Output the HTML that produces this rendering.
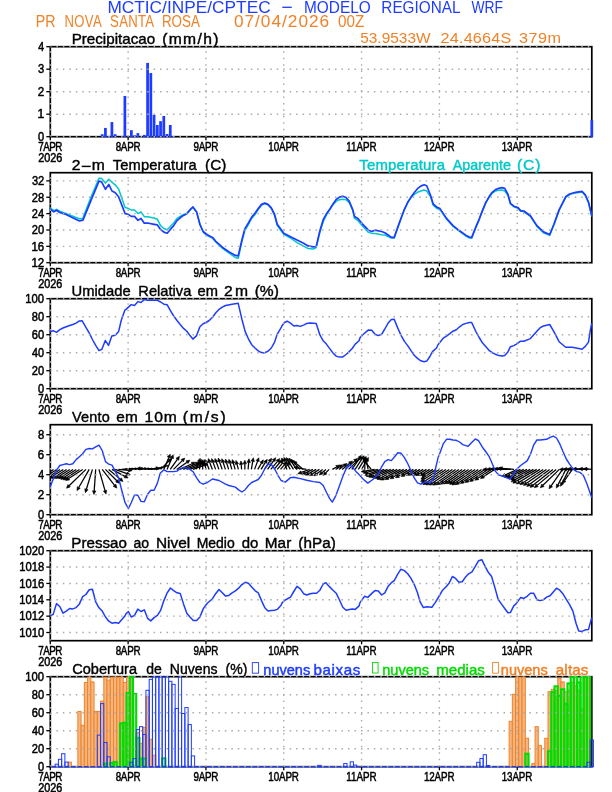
<!DOCTYPE html><html><head><meta charset="utf-8"><style>html,body{margin:0;padding:0;background:#fff;}svg{display:block;will-change:transform;}text{font-family:"Liberation Sans",sans-serif;}.b{stroke:#000;stroke-width:0.35px;}.lab{stroke:#000;stroke-width:0.3px;}</style></head><body>
<svg width="612" height="792" viewBox="0 0 612 792">
<rect x="0" y="0" width="612" height="792" fill="#fff"/>
<text transform="translate(107.38,12.7) scale(1.06,1)" x="0" y="0" font-size="16.3" fill="rgb(30,60,255)" textLength="154.03" lengthAdjust="spacing" class="" >MCTIC/INPE/CPTEC</text>
<text transform="translate(303.94,12.7) scale(0.946,1)" x="0" y="0" font-size="16.3" fill="rgb(30,60,255)" textLength="70.62" lengthAdjust="spacing" class="" >MODELO</text>
<text transform="translate(381.34,12.7) scale(0.94,1)" x="0" y="0" font-size="16.3" fill="rgb(30,60,255)" textLength="84.22" lengthAdjust="spacing" class="" >REGIONAL</text>
<text transform="translate(471.44,12.7) scale(0.852,1)" x="0" y="0" font-size="16.3" fill="rgb(30,60,255)" textLength="37.11" lengthAdjust="spacing" class="" >WRF</text>
<line x1="282.3" y1="7.3" x2="291.8" y2="7.3" stroke="rgb(30,60,255)" stroke-width="1.3"/>
<text transform="translate(35.74,26.8) scale(0.871,1)" x="0" y="0" font-size="16.3" fill="rgb(240,130,40)" textLength="22.64" lengthAdjust="spacing" class="" >PR</text>
<text transform="translate(64.53,26.8) scale(0.803,1)" x="0" y="0" font-size="16.3" fill="rgb(240,130,40)" textLength="46.2" lengthAdjust="spacing" class="" >NOVA</text>
<text transform="translate(110.1,26.8) scale(0.808,1)" x="0" y="0" font-size="16.3" fill="rgb(240,130,40)" textLength="54.36" lengthAdjust="spacing" class="" >SANTA</text>
<text transform="translate(161.9,26.8) scale(0.821,1)" x="0" y="0" font-size="16.3" fill="rgb(240,130,40)" textLength="46.19" lengthAdjust="spacing" class="" >ROSA</text>
<text transform="translate(233.93,26.8) scale(1.06,1)" x="0" y="0" font-size="16.3" fill="rgb(240,130,40)" textLength="89.84" lengthAdjust="spacing" class="" >07/04/2026</text>
<text transform="translate(338.1,26.8) scale(0.935,1)" x="0" y="0" font-size="16.3" fill="rgb(240,130,40)" textLength="28.1" lengthAdjust="spacing" class="" >00Z</text>
<text transform="translate(360.18,42.7) scale(1.009,1)" x="0" y="0" font-size="15.3" fill="rgb(240,130,40)" textLength="69.74" lengthAdjust="spacing" class="" >53.9533W</text>
<text transform="translate(440.58,42.7) scale(1.06,1)" x="0" y="0" font-size="15.3" fill="rgb(240,130,40)" textLength="66.66" lengthAdjust="spacing" class="" >24.4664S</text>
<text transform="translate(519.08,42.7) scale(1.06,1)" x="0" y="0" font-size="15.3" fill="rgb(240,130,40)" textLength="39.61" lengthAdjust="spacing" class="" >379m</text>
<text transform="translate(71.65,44.4) scale(1.026,1)" x="0" y="0" font-size="14.8" fill="#000" textLength="81.47" lengthAdjust="spacing" class="" stroke="#000" stroke-width="0.4">Precipitacao</text>
<text transform="translate(162.13,44.4) scale(1.06,1)" x="0" y="0" font-size="14.8" fill="#000" textLength="53.16" lengthAdjust="spacing" class="" stroke="#000" stroke-width="0.4">(mm/h)</text>
<text transform="translate(71.81,170.4) scale(1.06,1)" x="0" y="0" font-size="14.8" fill="#000" textLength="8.56" lengthAdjust="spacing" class="" stroke="#000" stroke-width="0.4">2</text>
<text transform="translate(91.86,170.4) scale(1.06,1)" x="0" y="0" font-size="14.8" fill="#000" textLength="12.43" lengthAdjust="spacing" class="" stroke="#000" stroke-width="0.4">m</text>
<text transform="translate(112.77,170.4) scale(0.992,1)" x="0" y="0" font-size="14.8" fill="#000" textLength="84.71" lengthAdjust="spacing" class="" stroke="#000" stroke-width="0.4">Temperatura</text>
<text transform="translate(205.05,170.4) scale(1.032,1)" x="0" y="0" font-size="14.8" fill="#000" textLength="20.54" lengthAdjust="spacing" class="" stroke="#000" stroke-width="0.4">(C)</text>
<line x1="81.7" y1="166.4" x2="90.7" y2="166.4" stroke="#000" stroke-width="1.45"/>
<text transform="translate(71.46,296.4) scale(0.999,1)" x="0" y="0" font-size="14.8" fill="#000" textLength="59.26" lengthAdjust="spacing" class="" stroke="#000" stroke-width="0.4">Umidade</text>
<text transform="translate(138.3,296.4) scale(0.991,1)" x="0" y="0" font-size="14.8" fill="#000" textLength="53.48" lengthAdjust="spacing" class="" stroke="#000" stroke-width="0.4">Relativa</text>
<text transform="translate(197.58,296.4) scale(0.992,1)" x="0" y="0" font-size="14.8" fill="#000" textLength="20.56" lengthAdjust="spacing" class="" stroke="#000" stroke-width="0.4">em</text>
<text transform="translate(223.91,296.4) scale(1.06,1)" x="0" y="0" font-size="14.8" fill="#000" textLength="22.76" lengthAdjust="spacing" class="" stroke="#000" stroke-width="0.4">2m</text>
<text transform="translate(254.63,296.4) scale(1.053,1)" x="0" y="0" font-size="14.8" fill="#000" textLength="23.01" lengthAdjust="spacing" class="" stroke="#000" stroke-width="0.4">(%)</text>
<text transform="translate(72.04,422.4) scale(0.977,1)" x="0" y="0" font-size="14.8" fill="#000" textLength="38.66" lengthAdjust="spacing" class="" stroke="#000" stroke-width="0.4">Vento</text>
<text transform="translate(116.35,422.4) scale(1.039,1)" x="0" y="0" font-size="14.8" fill="#000" textLength="20.56" lengthAdjust="spacing" class="" stroke="#000" stroke-width="0.4">em</text>
<text transform="translate(144.61,422.4) scale(1.06,1)" x="0" y="0" font-size="14.8" fill="#000" textLength="30.5" lengthAdjust="spacing" class="" stroke="#000" stroke-width="0.4">10m</text>
<text transform="translate(182.73,422.4) scale(1.06,1)" x="0" y="0" font-size="14.8" fill="#000" textLength="40.61" lengthAdjust="spacing" class="" stroke="#000" stroke-width="0.4">(m/s)</text>
<text transform="translate(71.36,548.4) scale(1.024,1)" x="0" y="0" font-size="14.8" fill="#000" textLength="54.28" lengthAdjust="spacing" class="" stroke="#000" stroke-width="0.4">Pressao</text>
<text transform="translate(133.4,548.4) scale(0.947,1)" x="0" y="0" font-size="14.8" fill="#000" textLength="16.46" lengthAdjust="spacing" class="" stroke="#000" stroke-width="0.4">ao</text>
<text transform="translate(155.93,548.4) scale(1.043,1)" x="0" y="0" font-size="14.8" fill="#000" textLength="32.88" lengthAdjust="spacing" class="" stroke="#000" stroke-width="0.4">Nivel</text>
<text transform="translate(196.66,548.4) scale(0.943,1)" x="0" y="0" font-size="14.8" fill="#000" textLength="40.33" lengthAdjust="spacing" class="" stroke="#000" stroke-width="0.4">Medio</text>
<text transform="translate(241.77,548.4) scale(1.012,1)" x="0" y="0" font-size="14.8" fill="#000" textLength="16.46" lengthAdjust="spacing" class="" stroke="#000" stroke-width="0.4">do</text>
<text transform="translate(264.84,548.4) scale(1.036,1)" x="0" y="0" font-size="14.8" fill="#000" textLength="25.49" lengthAdjust="spacing" class="" stroke="#000" stroke-width="0.4">Mar</text>
<text transform="translate(298.35,548.4) scale(1.033,1)" x="0" y="0" font-size="14.8" fill="#000" textLength="36.2" lengthAdjust="spacing" class="" stroke="#000" stroke-width="0.4">(hPa)</text>
<text transform="translate(72.26,674.4) scale(0.984,1)" x="0" y="0" font-size="14.8" fill="#000" textLength="65.79" lengthAdjust="spacing" class="" stroke="#000" stroke-width="0.4">Cobertura</text>
<text transform="translate(146.21,674.4) scale(0.948,1)" x="0" y="0" font-size="14.8" fill="#000" textLength="16.47" lengthAdjust="spacing" class="" stroke="#000" stroke-width="0.4">de</text>
<text transform="translate(169.85,674.4) scale(0.95,1)" x="0" y="0" font-size="14.8" fill="#000" textLength="50.17" lengthAdjust="spacing" class="" stroke="#000" stroke-width="0.4">Nuvens</text>
<text transform="translate(225.53,674.4) scale(0.949,1)" x="0" y="0" font-size="14.8" fill="#000" textLength="23.02" lengthAdjust="spacing" class="" stroke="#000" stroke-width="0.4">(%)</text>
<defs>
<clipPath id="c0"><rect x="50.3" y="46.7" width="541.5" height="90"/></clipPath>
<clipPath id="c1"><rect x="50.3" y="172.7" width="541.5" height="90"/></clipPath>
<clipPath id="c2"><rect x="50.3" y="298.7" width="541.5" height="90"/></clipPath>
<clipPath id="c3"><rect x="50.3" y="424.7" width="541.5" height="90"/></clipPath>
<clipPath id="c4"><rect x="50.3" y="550.7" width="541.5" height="90"/></clipPath>
<clipPath id="c5"><rect x="50.3" y="676.7" width="541.5" height="90"/></clipPath>
</defs>
<rect x="50.3" y="46.7" width="541.5" height="90" fill="none" stroke="#000" stroke-width="1.7"/>
<rect x="50.3" y="172.7" width="541.5" height="90" fill="none" stroke="#000" stroke-width="1.7"/>
<rect x="50.3" y="298.7" width="541.5" height="90" fill="none" stroke="#000" stroke-width="1.7"/>
<rect x="50.3" y="424.7" width="541.5" height="90" fill="none" stroke="#000" stroke-width="1.7"/>
<rect x="50.3" y="550.7" width="541.5" height="90" fill="none" stroke="#000" stroke-width="1.7"/>
<rect x="50.3" y="676.7" width="541.5" height="90" fill="none" stroke="#000" stroke-width="1.7"/>
<rect x="100.81" y="134.22" width="2.75" height="2.97" fill="rgb(30,60,255)"/>
<rect x="104.05" y="127.92" width="2.75" height="9.28" fill="rgb(30,60,255)"/>
<rect x="107.3" y="136.25" width="2.75" height="0.95" fill="rgb(30,60,255)"/>
<rect x="110.54" y="122.07" width="2.75" height="15.12" fill="rgb(30,60,255)"/>
<rect x="113.78" y="134.22" width="2.75" height="2.97" fill="rgb(30,60,255)"/>
<rect x="123.51" y="95.97" width="2.75" height="41.22" fill="rgb(30,60,255)"/>
<rect x="129.99" y="130.17" width="2.75" height="7.03" fill="rgb(30,60,255)"/>
<rect x="133.24" y="135.35" width="2.75" height="1.85" fill="rgb(30,60,255)"/>
<rect x="136.48" y="133.1" width="2.75" height="4.1" fill="rgb(30,60,255)"/>
<rect x="142.96" y="134.9" width="2.75" height="2.3" fill="rgb(30,60,255)"/>
<rect x="146.21" y="62.9" width="2.75" height="74.3" fill="rgb(30,60,255)"/>
<rect x="149.45" y="73.02" width="2.75" height="64.18" fill="rgb(30,60,255)"/>
<rect x="152.69" y="114.87" width="2.75" height="22.33" fill="rgb(30,60,255)"/>
<rect x="155.93" y="125" width="2.75" height="12.2" fill="rgb(30,60,255)"/>
<rect x="159.18" y="121.17" width="2.75" height="16.03" fill="rgb(30,60,255)"/>
<rect x="162.42" y="116" width="2.75" height="21.2" fill="rgb(30,60,255)"/>
<rect x="165.66" y="134" width="2.75" height="3.2" fill="rgb(30,60,255)"/>
<rect x="168.9" y="125" width="2.75" height="12.2" fill="rgb(30,60,255)"/>
<rect x="172.15" y="136.02" width="2.75" height="1.18" fill="rgb(30,60,255)"/>
<rect x="590.43" y="119.82" width="2.75" height="17.38" fill="rgb(30,60,255)"/>
<line x1="50.3" y1="136.7" x2="590.8" y2="136.7" stroke="rgb(170,170,170)" stroke-width="1.4" stroke-dasharray="1.5 4.98" stroke-dashoffset="0.4"/>
<line x1="50.3" y1="114.2" x2="590.8" y2="114.2" stroke="rgb(170,170,170)" stroke-width="1.4" stroke-dasharray="1.5 4.98" stroke-dashoffset="0.4"/>
<line x1="50.3" y1="91.7" x2="590.8" y2="91.7" stroke="rgb(170,170,170)" stroke-width="1.4" stroke-dasharray="1.5 4.98" stroke-dashoffset="0.4"/>
<line x1="50.3" y1="69.2" x2="590.8" y2="69.2" stroke="rgb(170,170,170)" stroke-width="1.4" stroke-dasharray="1.5 4.98" stroke-dashoffset="0.4"/>
<line x1="50.3" y1="46.7" x2="590.8" y2="46.7" stroke="rgb(170,170,170)" stroke-width="1.4" stroke-dasharray="1.5 4.98" stroke-dashoffset="0.4"/>
<line x1="50.3" y1="136.7" x2="50.3" y2="46.7" stroke="rgb(170,170,170)" stroke-width="1.4" stroke-dasharray="1.5 4.96"/>
<line x1="128.12" y1="136.7" x2="128.12" y2="46.7" stroke="rgb(170,170,170)" stroke-width="1.4" stroke-dasharray="1.5 4.96"/>
<line x1="205.94" y1="136.7" x2="205.94" y2="46.7" stroke="rgb(170,170,170)" stroke-width="1.4" stroke-dasharray="1.5 4.96"/>
<line x1="283.76" y1="136.7" x2="283.76" y2="46.7" stroke="rgb(170,170,170)" stroke-width="1.4" stroke-dasharray="1.5 4.96"/>
<line x1="361.58" y1="136.7" x2="361.58" y2="46.7" stroke="rgb(170,170,170)" stroke-width="1.4" stroke-dasharray="1.5 4.96"/>
<line x1="439.4" y1="136.7" x2="439.4" y2="46.7" stroke="rgb(170,170,170)" stroke-width="1.4" stroke-dasharray="1.5 4.96"/>
<line x1="517.22" y1="136.7" x2="517.22" y2="46.7" stroke="rgb(170,170,170)" stroke-width="1.4" stroke-dasharray="1.5 4.96"/>
<polyline points="50.35,208 53.9,210.6 56.5,209.3 59.8,211.2 79.4,218.8 82.6,218.8 91.1,196.8 99,178.3 101.6,178.5 105.5,183.1 108.8,179.2 115.3,185.1 118.6,189 125.1,207.6 128,208.3 131.2,209.9 134.5,209.9 138,213.6 141,211.9 144.3,216.7 147.6,216.7 154.1,218 157.4,219.3 160.6,225.6 163.9,228.5 167.2,229.8 170.4,226.6 173.7,223 177,218.4 183.5,214.5 186.8,213.6 190,209.9 192.9,207 196.6,211.9 199.9,224.3 203.1,231.5 204,233.2 207.3,235.5 212.5,238.2 215.8,242 222.3,248.2 228.8,253 235.4,257.5 238.2,258.3 241.9,241.5 244.8,230.5 248.4,224.5 251.7,218.5 255,214.5 258.2,209.5 261.5,205 264.8,203.5 268,204.8 271.3,208.5 274.6,215.5 277.2,225.3 281.1,230.8 284,234.5 285.3,235 290.5,238 297,242.6 303.6,246.2 308.1,248.5 313.4,249 316.2,247.6 319.9,232.1 323.2,221.7 326.4,215.1 333,204.7 336.2,201.4 339.5,199.7 342.8,199.2 346.1,199.7 349.3,202.7 352.6,209.9 354.5,218.4 357.8,220.4 360,223 363.3,226.9 368.5,232.4 371.8,233.4 375,233.4 381.6,234.7 384.8,235 391.4,238 394.2,238 397.9,227.5 401.2,218.3 404.4,209.8 407.7,202.8 411,197.6 414.2,194.5 417.5,192.3 420.8,191 424.1,190 426.7,191 430.6,196.8 433.2,205.3 437.1,208.6 440,209.6 441.3,211.3 446.5,219 453,226.3 459.6,231.5 466.1,236.1 469.4,238 471.7,238.2 475.9,227.4 479.2,219.6 482.4,211.1 485.7,203.2 489,197.5 492.2,193.3 495.5,191 498.8,190.3 502.1,190 504.7,191 507.9,195.2 510.5,204 513.8,206.8 518,208.2 520.6,211.2 523.8,211.6 530.4,216.4 536.9,226.4 543.5,232.7 549.7,235.4 553.9,225 559.1,210.5 565.7,197.4 569.6,194.6 575.5,192.9 582,191.9 585.3,195.5 588.5,202.7 591.6,215.7" fill="none" stroke="rgb(0,200,200)" stroke-width="1.5" stroke-linejoin="round" stroke-linecap="round" />
<polyline points="50.35,209.3 53.9,211.9 56.5,210.2 59.8,212.5 65,214.1 79.4,221 83,220.1 91.1,200.1 99,181.2 101.6,181.8 105.5,189.3 108.8,184.4 112,191 115.3,192.7 118.6,196.8 125.1,213.6 128,214.1 131.2,216.4 134.5,216.4 138,220.4 141,218.4 144.3,223.2 147.6,223 154.1,224.3 157.4,224.9 160.6,229.5 163.9,232.1 167.2,233.2 170.4,229.5 173.7,225.6 177,220.6 180.2,217.8 183.5,215.4 186.8,213.8 190,209.9 192.9,207 196.6,211.9 199.9,224.3 203.1,231.5 207.3,234.7 212.5,237.4 215.8,241.3 222.3,247.2 228.8,251.7 235.4,255.4 238.2,255.9 241.9,240 244.8,228.9 248.4,223 251.7,217.1 255,213.2 258.2,208.6 261.5,204.4 264.8,203.1 268,204.4 271.3,207.9 274.6,214.5 277.2,224.3 281.1,229.5 284,233.4 285.3,234.1 290.5,236.7 297,240 303.6,243.2 308.1,245.9 313.4,246.8 316.2,246.5 319.9,230.8 323.2,219.7 326.4,213.8 329.7,209.3 333,204 336.2,199.5 339.5,197.1 342.8,196.2 346.1,197.5 349.3,201.4 352.6,209.3 354.5,216.4 357.8,218.4 360,221 363.3,224.9 368.5,230.2 371.8,231.5 375,230.2 381.6,231.5 384.8,232.8 388.1,235 391.4,237.4 394.2,237.4 397.9,226.9 401.2,217.8 404.4,209.3 407.7,202.3 411,197.1 414.2,192.7 417.5,188.7 420.8,186.1 424.1,184.8 426.7,185.7 430.6,195.5 433.2,204 437.1,207.3 440,208.6 441.3,210.6 446.5,218.4 453,225.6 459.6,230.8 466.1,235.4 469.4,237.1 471.7,237.4 475.9,226.9 479.2,219.1 482.4,210.6 485.7,202.7 489,196.8 492.2,192.3 495.5,189.6 498.8,188.3 502.1,187.7 504.7,188.3 507.9,194.2 510.5,203.4 513.8,206.2 518,207.6 520.6,210.6 523.8,211 530.4,215.8 536.9,225.6 543.5,231.9 549.7,234.5 553.9,224.3 559.1,209.9 565.7,196.8 569.6,194 575.5,192.3 582,191.3 585.3,194.9 588.5,202.1 591.6,215.1" fill="none" stroke="rgb(30,60,255)" stroke-width="1.7" stroke-linejoin="round" stroke-linecap="round" />
<polyline points="50.35,331.6 53.2,330.7 56.5,332.3 59.8,329.7 63,328 66.3,326.7 69.6,325.5 72.8,324.5 76.1,323.1 79.4,320.9 82.2,320.8 85.9,327.3 89.2,332.9 92.4,339.5 95.7,345.4 99,350.6 101.9,349.3 105.3,340.4 108.5,345.4 111.8,336 115.3,335.2 118.6,331.6 121.2,320.5 124.9,310.1 126,309.4 131.2,304.6 134.5,305.5 138,301.6 141,302.5 144.3,299.6 147.6,300.3 157.4,300.3 160.6,302 163.9,304.2 167.2,304.8 170.4,310.7 173.7,316 177,320.5 180.2,324.5 183.5,328.4 186.8,331.2 190,335.6 192.9,339.1 196.6,335.6 199.9,326.8 203.1,323.8 206,322.5 209.2,320.5 212.5,317.3 215.8,312.7 219,309.4 222.3,307.2 225.6,305.5 232.1,304.2 238.2,303.3 241.9,319.2 245.2,331.6 248.4,338.8 251.7,344.7 255,348 258.2,350.9 261.5,352.6 264.4,352.9 268,351.2 271.3,348 274.6,342.1 277.2,334.3 281.1,327.7 282,325.8 284.5,322.5 287.2,321.2 290.5,323.1 293.8,326 297,325.5 300.3,326.4 303.6,325.1 306.8,323.4 310.1,323.1 316.2,323.4 319.9,334.9 323.2,340.8 326.4,344.1 329.7,348.6 333,353 336.2,356.1 339.5,357.1 342.8,356.9 346.1,354.5 349.3,351.6 352.6,348 355.2,344.1 359.1,340.8 360,337.8 363.3,334.3 368.5,329.9 371.8,330.3 375,334.3 378.3,335.6 381.6,334.3 384.8,329 388.1,323.1 391.4,319.5 394.2,319.2 397.9,328.4 401.2,335.6 404.4,341.4 407.7,345.6 411,350.6 414.2,355.2 417.5,358.4 420.8,360.8 424.1,361.7 426.7,361.1 429.9,356.5 432.5,351.6 436.5,348 438,344.7 443.2,338.2 446.5,336.2 449.8,333.6 453,331.2 456.3,329.7 459.6,326.8 462.8,324.5 466.1,323.4 469.4,322.5 471.7,322.5 475.9,331.6 479.2,337.5 482.4,342.8 485.7,346.4 489,350.3 492.2,352.6 495.5,354.3 498.8,355.6 502.1,356.1 504.7,355.6 507.9,351.9 510.5,346.7 513.8,345.6 516,344.3 520.6,341.2 523.8,341.2 530.4,338.6 536.9,331.2 540.2,327.7 543.5,326 549.7,324.5 553.9,331.6 559.1,341.7 565.7,347.3 572.2,347.3 578.7,348.6 582,349.3 585.3,346.4 588.5,342.1 590.2,331 591.6,323.8" fill="none" stroke="rgb(30,60,255)" stroke-width="1.5" stroke-linejoin="round" stroke-linecap="round" />
<g clip-path="url(#c3)">
<line x1="50.3" y1="469.4" x2="45.42" y2="472.57" stroke="#000" stroke-width="1.25"/>
<polygon points="42.4,474.53 44.49,471.15 46.34,473.99" fill="#000" stroke="#000" stroke-width="0.6"/>
<line x1="53.54" y1="469.4" x2="46.38" y2="474.05" stroke="#000" stroke-width="1.25"/>
<polygon points="43.36,476.01 45.46,472.63 47.31,475.47" fill="#000" stroke="#000" stroke-width="0.6"/>
<line x1="56.79" y1="469.4" x2="47.24" y2="475.6" stroke="#000" stroke-width="1.25"/>
<polygon points="44.22,477.56 46.32,474.18 48.16,477.02" fill="#000" stroke="#000" stroke-width="0.6"/>
<line x1="60.03" y1="469.4" x2="49.29" y2="476.37" stroke="#000" stroke-width="1.25"/>
<polygon points="46.27,478.33 48.37,474.96 50.21,477.79" fill="#000" stroke="#000" stroke-width="0.6"/>
<line x1="63.27" y1="469.4" x2="52.28" y2="476.54" stroke="#000" stroke-width="1.25"/>
<polygon points="49.26,478.5 51.36,475.12 53.2,477.96" fill="#000" stroke="#000" stroke-width="0.6"/>
<line x1="66.51" y1="469.4" x2="55.33" y2="476.66" stroke="#000" stroke-width="1.25"/>
<polygon points="52.31,478.62 54.41,475.24 56.25,478.08" fill="#000" stroke="#000" stroke-width="0.6"/>
<line x1="69.76" y1="469.4" x2="58.77" y2="476.53" stroke="#000" stroke-width="1.25"/>
<polygon points="55.75,478.49 57.85,475.11 59.69,477.95" fill="#000" stroke="#000" stroke-width="0.6"/>
<line x1="73" y1="469.4" x2="61.73" y2="476.72" stroke="#000" stroke-width="1.25"/>
<polygon points="58.71,478.68 60.81,475.3 62.65,478.14" fill="#000" stroke="#000" stroke-width="0.6"/>
<line x1="76.24" y1="469.4" x2="63.84" y2="477.45" stroke="#000" stroke-width="1.25"/>
<polygon points="60.82,479.42 62.92,476.04 64.76,478.87" fill="#000" stroke="#000" stroke-width="0.6"/>
<line x1="79.48" y1="469.4" x2="66.28" y2="477.97" stroke="#000" stroke-width="1.25"/>
<polygon points="63.26,479.93 65.36,476.55 67.2,479.39" fill="#000" stroke="#000" stroke-width="0.6"/>
<line x1="82.73" y1="469.4" x2="68.66" y2="478.53" stroke="#000" stroke-width="1.25"/>
<polygon points="65.64,480.49 67.74,477.11 69.58,479.95" fill="#000" stroke="#000" stroke-width="0.6"/>
<line x1="85.97" y1="469.4" x2="69.09" y2="485.7" stroke="#000" stroke-width="1.25"/>
<polygon points="66.5,488.2 67.91,484.49 70.26,486.92" fill="#000" stroke="#000" stroke-width="0.6"/>
<line x1="89.21" y1="469.4" x2="78.76" y2="487.49" stroke="#000" stroke-width="1.25"/>
<polygon points="76.96,490.61 77.3,486.65 80.23,488.34" fill="#000" stroke="#000" stroke-width="0.6"/>
<line x1="92.45" y1="469.4" x2="86.38" y2="489.25" stroke="#000" stroke-width="1.25"/>
<polygon points="85.33,492.69 84.77,488.76 88,489.75" fill="#000" stroke="#000" stroke-width="0.6"/>
<line x1="95.7" y1="469.4" x2="94.19" y2="490.87" stroke="#000" stroke-width="1.25"/>
<polygon points="93.94,494.46 92.51,490.75 95.88,490.99" fill="#000" stroke="#000" stroke-width="0.6"/>
<line x1="98.94" y1="469.4" x2="105.03" y2="490.65" stroke="#000" stroke-width="1.25"/>
<polygon points="106.02,494.11 103.4,491.11 106.66,490.18" fill="#000" stroke="#000" stroke-width="0.6"/>
<line x1="102.18" y1="469.4" x2="114.6" y2="485.29" stroke="#000" stroke-width="1.25"/>
<polygon points="116.81,488.13 113.26,486.33 115.93,484.25" fill="#000" stroke="#000" stroke-width="0.6"/>
<line x1="105.42" y1="469.4" x2="116.84" y2="480.81" stroke="#000" stroke-width="1.25"/>
<polygon points="119.38,483.36 115.64,482.01 118.03,479.62" fill="#000" stroke="#000" stroke-width="0.6"/>
<line x1="108.67" y1="469.4" x2="120.25" y2="479.12" stroke="#000" stroke-width="1.25"/>
<polygon points="123.01,481.44 119.16,480.42 121.34,477.83" fill="#000" stroke="#000" stroke-width="0.6"/>
<line x1="111.91" y1="469.4" x2="124.94" y2="476.33" stroke="#000" stroke-width="1.25"/>
<polygon points="128.12,478.02 124.15,477.82 125.74,474.84" fill="#000" stroke="#000" stroke-width="0.6"/>
<line x1="115.15" y1="469.4" x2="126.92" y2="473.68" stroke="#000" stroke-width="1.25"/>
<polygon points="130.3,474.92 126.34,475.27 127.5,472.09" fill="#000" stroke="#000" stroke-width="0.6"/>
<line x1="118.39" y1="469.4" x2="128.52" y2="470.29" stroke="#000" stroke-width="1.25"/>
<polygon points="132.11,470.6 128.37,471.97 128.67,468.6" fill="#000" stroke="#000" stroke-width="0.6"/>
<line x1="121.64" y1="469.4" x2="129.14" y2="468.74" stroke="#000" stroke-width="1.25"/>
<polygon points="130.76,468.6 129.21,469.5 129.08,467.98" fill="#000" stroke="#000" stroke-width="0.6"/>
<line x1="124.88" y1="469.4" x2="131.73" y2="468.65" stroke="#000" stroke-width="1.25"/>
<polygon points="133.33,468.47 131.81,469.4 131.65,467.9" fill="#000" stroke="#000" stroke-width="0.6"/>
<line x1="128.12" y1="469.4" x2="134.95" y2="468.5" stroke="#000" stroke-width="1.25"/>
<polygon points="136.55,468.29 135.05,469.25 134.86,467.75" fill="#000" stroke="#000" stroke-width="0.6"/>
<line x1="131.36" y1="469.4" x2="138.18" y2="468.35" stroke="#000" stroke-width="1.25"/>
<polygon points="139.76,468.11 138.29,469.1 138.06,467.61" fill="#000" stroke="#000" stroke-width="0.6"/>
<line x1="134.61" y1="469.4" x2="139.46" y2="468.54" stroke="#000" stroke-width="1.25"/>
<polygon points="142.98,467.92 139.75,470.2 139.17,466.89" fill="#000" stroke="#000" stroke-width="0.6"/>
<line x1="137.85" y1="469.4" x2="144.66" y2="468.35" stroke="#000" stroke-width="1.25"/>
<polygon points="146.25,468.11 144.78,469.1 144.55,467.61" fill="#000" stroke="#000" stroke-width="0.6"/>
<line x1="141.09" y1="469.4" x2="147.92" y2="468.5" stroke="#000" stroke-width="1.25"/>
<polygon points="149.52,468.29 148.02,469.25 147.83,467.75" fill="#000" stroke="#000" stroke-width="0.6"/>
<line x1="144.33" y1="469.4" x2="151.19" y2="468.65" stroke="#000" stroke-width="1.25"/>
<polygon points="152.78,468.47 151.27,469.4 151.1,467.9" fill="#000" stroke="#000" stroke-width="0.6"/>
<line x1="147.58" y1="469.4" x2="154.44" y2="468.8" stroke="#000" stroke-width="1.25"/>
<polygon points="156.04,468.66 154.51,469.55 154.38,468.05" fill="#000" stroke="#000" stroke-width="0.6"/>
<line x1="150.82" y1="469.4" x2="156.16" y2="468.46" stroke="#000" stroke-width="1.25"/>
<polygon points="159.71,467.83 156.46,470.12 155.87,466.79" fill="#000" stroke="#000" stroke-width="0.6"/>
<line x1="154.06" y1="469.4" x2="161.22" y2="467.48" stroke="#000" stroke-width="1.25"/>
<polygon points="162.78,467.06 161.41,468.22 161.02,466.75" fill="#000" stroke="#000" stroke-width="0.6"/>
<line x1="157.3" y1="469.4" x2="166.69" y2="465.98" stroke="#000" stroke-width="1.25"/>
<polygon points="168.22,465.43 166.95,466.7 166.43,465.27" fill="#000" stroke="#000" stroke-width="0.6"/>
<line x1="160.55" y1="469.4" x2="168.92" y2="461.03" stroke="#000" stroke-width="1.25"/>
<polygon points="171.46,458.48 170.11,462.23 167.72,459.83" fill="#000" stroke="#000" stroke-width="0.6"/>
<line x1="163.79" y1="469.4" x2="168.86" y2="457.46" stroke="#000" stroke-width="1.25"/>
<polygon points="170.26,454.14 170.41,458.12 167.3,456.8" fill="#000" stroke="#000" stroke-width="0.6"/>
<line x1="167.03" y1="469.4" x2="171.87" y2="458" stroke="#000" stroke-width="1.25"/>
<polygon points="173.27,454.69 173.43,458.66 170.31,457.34" fill="#000" stroke="#000" stroke-width="0.6"/>
<line x1="170.27" y1="469.4" x2="177.36" y2="459.29" stroke="#000" stroke-width="1.25"/>
<polygon points="179.42,456.34 178.74,460.26 175.97,458.32" fill="#000" stroke="#000" stroke-width="0.6"/>
<line x1="173.52" y1="469.4" x2="182.25" y2="460.67" stroke="#000" stroke-width="1.25"/>
<polygon points="184.79,458.12 183.44,461.87 181.05,459.47" fill="#000" stroke="#000" stroke-width="0.6"/>
<line x1="176.76" y1="469.4" x2="187.01" y2="462.22" stroke="#000" stroke-width="1.25"/>
<polygon points="189.96,460.15 187.98,463.61 186.04,460.83" fill="#000" stroke="#000" stroke-width="0.6"/>
<line x1="180" y1="469.4" x2="192.08" y2="463.77" stroke="#000" stroke-width="1.25"/>
<polygon points="195.34,462.25 192.8,465.3 191.37,462.23" fill="#000" stroke="#000" stroke-width="0.6"/>
<line x1="183.24" y1="469.4" x2="195.93" y2="463.82" stroke="#000" stroke-width="1.25"/>
<polygon points="199.23,462.37 196.61,465.37 195.25,462.27" fill="#000" stroke="#000" stroke-width="0.6"/>
<line x1="186.49" y1="469.4" x2="199.11" y2="464.17" stroke="#000" stroke-width="1.25"/>
<polygon points="202.44,462.79 199.76,465.73 198.46,462.61" fill="#000" stroke="#000" stroke-width="0.6"/>
<line x1="189.73" y1="469.4" x2="202.03" y2="464.62" stroke="#000" stroke-width="1.25"/>
<polygon points="205.39,463.31 202.65,466.19 201.42,463.04" fill="#000" stroke="#000" stroke-width="0.6"/>
<line x1="192.97" y1="469.4" x2="204.52" y2="465.19" stroke="#000" stroke-width="1.25"/>
<polygon points="207.91,463.96 205.1,466.78 203.95,463.6" fill="#000" stroke="#000" stroke-width="0.6"/>
<line x1="196.21" y1="469.4" x2="199.01" y2="461.7" stroke="#000" stroke-width="1.25"/>
<polygon points="200.25,458.32 200.6,462.28 197.42,461.12" fill="#000" stroke="#000" stroke-width="0.6"/>
<line x1="199.46" y1="469.4" x2="200.62" y2="462.78" stroke="#000" stroke-width="1.25"/>
<polygon points="201.25,459.24 202.29,463.07 198.96,462.49" fill="#000" stroke="#000" stroke-width="0.6"/>
<line x1="202.7" y1="469.4" x2="202.7" y2="463.34" stroke="#000" stroke-width="1.25"/>
<polygon points="202.7,459.74 204.39,463.34 201.01,463.34" fill="#000" stroke="#000" stroke-width="0.6"/>
<line x1="205.94" y1="469.4" x2="204.84" y2="463.14" stroke="#000" stroke-width="1.25"/>
<polygon points="204.21,459.6 206.5,462.85 203.17,463.44" fill="#000" stroke="#000" stroke-width="0.6"/>
<line x1="209.18" y1="469.4" x2="206.59" y2="462.98" stroke="#000" stroke-width="1.25"/>
<polygon points="205.24,459.64 208.16,462.34 205.02,463.61" fill="#000" stroke="#000" stroke-width="0.6"/>
<line x1="212.43" y1="469.4" x2="209.53" y2="461.94" stroke="#000" stroke-width="1.25"/>
<polygon points="208.22,458.58 211.1,461.32 207.95,462.55" fill="#000" stroke="#000" stroke-width="0.6"/>
<line x1="215.67" y1="469.4" x2="212.86" y2="461.86" stroke="#000" stroke-width="1.25"/>
<polygon points="211.6,458.49 214.44,461.27 211.27,462.45" fill="#000" stroke="#000" stroke-width="0.6"/>
<line x1="218.91" y1="469.4" x2="216.2" y2="461.82" stroke="#000" stroke-width="1.25"/>
<polygon points="214.99,458.43 217.8,461.25 214.61,462.39" fill="#000" stroke="#000" stroke-width="0.6"/>
<line x1="222.15" y1="469.4" x2="219.43" y2="461.45" stroke="#000" stroke-width="1.25"/>
<polygon points="218.27,458.05 221.03,460.9 217.83,462" fill="#000" stroke="#000" stroke-width="0.6"/>
<line x1="225.4" y1="469.4" x2="222.99" y2="462.06" stroke="#000" stroke-width="1.25"/>
<polygon points="221.87,458.63 224.6,461.53 221.39,462.58" fill="#000" stroke="#000" stroke-width="0.6"/>
<line x1="228.64" y1="469.4" x2="226.48" y2="462.5" stroke="#000" stroke-width="1.25"/>
<polygon points="225.41,459.06 228.1,462 224.87,463" fill="#000" stroke="#000" stroke-width="0.6"/>
<line x1="231.88" y1="469.4" x2="229.91" y2="462.76" stroke="#000" stroke-width="1.25"/>
<polygon points="228.88,459.31 231.53,462.28 228.28,463.24" fill="#000" stroke="#000" stroke-width="0.6"/>
<line x1="235.12" y1="469.4" x2="233.32" y2="463.01" stroke="#000" stroke-width="1.25"/>
<polygon points="232.34,459.55 234.95,462.55 231.69,463.47" fill="#000" stroke="#000" stroke-width="0.6"/>
<line x1="238.37" y1="469.4" x2="236.9" y2="463.94" stroke="#000" stroke-width="1.25"/>
<polygon points="235.97,460.46 238.54,463.5 235.27,464.38" fill="#000" stroke="#000" stroke-width="0.6"/>
<line x1="241.61" y1="469.4" x2="241.18" y2="464.49" stroke="#000" stroke-width="1.25"/>
<polygon points="240.87,460.93 242.85,464.34 239.51,464.63" fill="#000" stroke="#000" stroke-width="0.6"/>
<line x1="244.85" y1="469.4" x2="244.85" y2="463.84" stroke="#000" stroke-width="1.25"/>
<polygon points="244.85,460.24 246.54,463.84 243.16,463.84" fill="#000" stroke="#000" stroke-width="0.6"/>
<line x1="248.09" y1="469.4" x2="248.71" y2="462.37" stroke="#000" stroke-width="1.25"/>
<polygon points="249.02,458.79 250.39,462.52 247.02,462.22" fill="#000" stroke="#000" stroke-width="0.6"/>
<line x1="251.34" y1="469.4" x2="252.76" y2="461.33" stroke="#000" stroke-width="1.25"/>
<polygon points="253.38,457.79 254.42,461.63 251.09,461.04" fill="#000" stroke="#000" stroke-width="0.6"/>
<line x1="254.58" y1="469.4" x2="257.59" y2="461.13" stroke="#000" stroke-width="1.25"/>
<polygon points="258.82,457.74 259.18,461.7 256,460.55" fill="#000" stroke="#000" stroke-width="0.6"/>
<line x1="257.82" y1="469.4" x2="261.53" y2="462.98" stroke="#000" stroke-width="1.25"/>
<polygon points="263.33,459.86 262.99,463.82 260.06,462.13" fill="#000" stroke="#000" stroke-width="0.6"/>
<line x1="261.06" y1="469.4" x2="265.36" y2="462.43" stroke="#000" stroke-width="1.25"/>
<polygon points="267.25,459.37 266.8,463.32 263.92,461.55" fill="#000" stroke="#000" stroke-width="0.6"/>
<line x1="264.31" y1="469.4" x2="269.64" y2="461.3" stroke="#000" stroke-width="1.25"/>
<polygon points="271.61,458.29 271.05,462.23 268.22,460.37" fill="#000" stroke="#000" stroke-width="0.6"/>
<line x1="267.55" y1="469.4" x2="273.68" y2="460.65" stroke="#000" stroke-width="1.25"/>
<polygon points="275.74,457.7 275.06,461.62 272.29,459.67" fill="#000" stroke="#000" stroke-width="0.6"/>
<line x1="270.79" y1="469.4" x2="277.54" y2="461.36" stroke="#000" stroke-width="1.25"/>
<polygon points="279.85,458.6 278.83,462.45 276.24,460.27" fill="#000" stroke="#000" stroke-width="0.6"/>
<line x1="274.03" y1="469.4" x2="280.04" y2="462.25" stroke="#000" stroke-width="1.25"/>
<polygon points="282.35,459.49 281.33,463.33 278.74,461.16" fill="#000" stroke="#000" stroke-width="0.6"/>
<line x1="277.28" y1="469.4" x2="282.5" y2="463.18" stroke="#000" stroke-width="1.25"/>
<polygon points="284.81,460.42 283.8,464.26 281.2,462.09" fill="#000" stroke="#000" stroke-width="0.6"/>
<line x1="280.52" y1="469.4" x2="284.89" y2="464.19" stroke="#000" stroke-width="1.25"/>
<polygon points="287.21,461.43 286.19,465.28 283.6,463.1" fill="#000" stroke="#000" stroke-width="0.6"/>
<line x1="283.76" y1="469.4" x2="288.16" y2="464.16" stroke="#000" stroke-width="1.25"/>
<polygon points="290.47,461.4 289.45,465.25 286.86,463.07" fill="#000" stroke="#000" stroke-width="0.6"/>
<line x1="287" y1="469.4" x2="283.2" y2="461.24" stroke="#000" stroke-width="1.25"/>
<polygon points="281.68,457.97 284.73,460.52 281.66,461.95" fill="#000" stroke="#000" stroke-width="0.6"/>
<line x1="290.25" y1="469.4" x2="285.48" y2="460.56" stroke="#000" stroke-width="1.25"/>
<polygon points="283.77,457.39 286.97,459.75 283.99,461.36" fill="#000" stroke="#000" stroke-width="0.6"/>
<line x1="293.49" y1="469.4" x2="288.1" y2="460.67" stroke="#000" stroke-width="1.25"/>
<polygon points="286.21,457.6 289.54,459.78 286.66,461.55" fill="#000" stroke="#000" stroke-width="0.6"/>
<line x1="296.73" y1="469.4" x2="290.97" y2="461.17" stroke="#000" stroke-width="1.25"/>
<polygon points="288.91,458.23 292.36,460.2 289.59,462.15" fill="#000" stroke="#000" stroke-width="0.6"/>
<line x1="299.97" y1="469.4" x2="293.36" y2="462.19" stroke="#000" stroke-width="1.25"/>
<polygon points="290.93,459.53 294.61,461.04 292.12,463.33" fill="#000" stroke="#000" stroke-width="0.6"/>
<line x1="303.22" y1="469.4" x2="295.96" y2="463.31" stroke="#000" stroke-width="1.25"/>
<polygon points="293.2,461 297.05,462.01 294.87,464.61" fill="#000" stroke="#000" stroke-width="0.6"/>
<line x1="306.46" y1="469.4" x2="297.44" y2="467.81" stroke="#000" stroke-width="1.25"/>
<polygon points="293.89,467.18 297.73,466.14 297.14,469.48" fill="#000" stroke="#000" stroke-width="0.6"/>
<line x1="309.7" y1="469.4" x2="301.32" y2="472.45" stroke="#000" stroke-width="1.25"/>
<polygon points="297.94,473.68 300.74,470.86 301.9,474.04" fill="#000" stroke="#000" stroke-width="0.6"/>
<line x1="312.94" y1="469.4" x2="305.08" y2="473.07" stroke="#000" stroke-width="1.25"/>
<polygon points="301.81,474.59 304.36,471.53 305.79,474.6" fill="#000" stroke="#000" stroke-width="0.6"/>
<line x1="316.19" y1="469.4" x2="308.71" y2="473.46" stroke="#000" stroke-width="1.25"/>
<polygon points="305.55,475.18 307.91,471.97 309.52,474.94" fill="#000" stroke="#000" stroke-width="0.6"/>
<line x1="319.43" y1="469.4" x2="312.36" y2="473.82" stroke="#000" stroke-width="1.25"/>
<polygon points="309.3,475.73 311.46,472.38 313.25,475.25" fill="#000" stroke="#000" stroke-width="0.6"/>
<line x1="322.67" y1="469.4" x2="316.7" y2="473.74" stroke="#000" stroke-width="1.25"/>
<polygon points="313.79,475.85 315.7,472.37 317.69,475.11" fill="#000" stroke="#000" stroke-width="0.6"/>
<line x1="325.91" y1="469.4" x2="322.03" y2="472.66" stroke="#000" stroke-width="1.25"/>
<polygon points="319.27,474.97 320.94,471.36 323.12,473.96" fill="#000" stroke="#000" stroke-width="0.6"/>
<line x1="329.16" y1="469.4" x2="325.67" y2="472.89" stroke="#000" stroke-width="1.25"/>
<polygon points="323.15,475.41 324.48,471.7 326.86,474.07" fill="#000" stroke="#000" stroke-width="0.6"/>
<line x1="332.4" y1="469.4" x2="336.67" y2="466.94" stroke="#000" stroke-width="1.25"/>
<polygon points="339.76,465.15 337.51,468.39 335.83,465.48" fill="#000" stroke="#000" stroke-width="0.6"/>
<line x1="335.64" y1="469.4" x2="339.78" y2="466.71" stroke="#000" stroke-width="1.25"/>
<polygon points="342.77,464.77 340.69,468.12 338.86,465.31" fill="#000" stroke="#000" stroke-width="0.6"/>
<line x1="338.88" y1="469.4" x2="344.16" y2="465.57" stroke="#000" stroke-width="1.25"/>
<polygon points="347.07,463.45 345.15,466.94 343.16,464.2" fill="#000" stroke="#000" stroke-width="0.6"/>
<line x1="342.13" y1="469.4" x2="349.75" y2="463.23" stroke="#000" stroke-width="1.25"/>
<polygon points="352.55,460.96 350.81,464.54 348.69,461.91" fill="#000" stroke="#000" stroke-width="0.6"/>
<line x1="345.37" y1="469.4" x2="354.84" y2="460.87" stroke="#000" stroke-width="1.25"/>
<polygon points="357.51,458.46 355.97,462.13 353.71,459.62" fill="#000" stroke="#000" stroke-width="0.6"/>
<line x1="348.61" y1="469.4" x2="358.9" y2="459.12" stroke="#000" stroke-width="1.25"/>
<polygon points="361.44,456.57 360.09,460.31 357.7,457.92" fill="#000" stroke="#000" stroke-width="0.6"/>
<line x1="351.85" y1="469.4" x2="359.98" y2="457.79" stroke="#000" stroke-width="1.25"/>
<polygon points="362.05,454.84 361.37,458.76 358.6,456.82" fill="#000" stroke="#000" stroke-width="0.6"/>
<line x1="355.1" y1="469.4" x2="362.13" y2="458.71" stroke="#000" stroke-width="1.25"/>
<polygon points="364.11,455.7 363.54,459.64 360.72,457.78" fill="#000" stroke="#000" stroke-width="0.6"/>
<line x1="358.34" y1="469.4" x2="364.39" y2="459.6" stroke="#000" stroke-width="1.25"/>
<polygon points="366.28,456.53 365.83,460.48 362.95,458.71" fill="#000" stroke="#000" stroke-width="0.6"/>
<line x1="361.58" y1="469.4" x2="366.7" y2="460.54" stroke="#000" stroke-width="1.25"/>
<polygon points="368.5,457.42 368.16,461.39 365.23,459.69" fill="#000" stroke="#000" stroke-width="0.6"/>
<line x1="364.82" y1="469.4" x2="364.82" y2="460.35" stroke="#000" stroke-width="1.25"/>
<polygon points="364.82,456.75 366.52,460.35 363.13,460.35" fill="#000" stroke="#000" stroke-width="0.6"/>
<line x1="368.07" y1="469.4" x2="366.65" y2="461.36" stroke="#000" stroke-width="1.25"/>
<polygon points="366.02,457.82 368.32,461.07 364.98,461.66" fill="#000" stroke="#000" stroke-width="0.6"/>
<line x1="371.31" y1="469.4" x2="365.52" y2="462.5" stroke="#000" stroke-width="1.25"/>
<polygon points="363.21,459.75 366.82,461.42 364.23,463.59" fill="#000" stroke="#000" stroke-width="0.6"/>
<line x1="374.55" y1="469.4" x2="364.72" y2="471.13" stroke="#000" stroke-width="1.25"/>
<polygon points="361.17,471.76 364.42,469.47 365.01,472.8" fill="#000" stroke="#000" stroke-width="0.6"/>
<line x1="377.79" y1="469.4" x2="366.92" y2="472.31" stroke="#000" stroke-width="1.25"/>
<polygon points="363.45,473.24 366.48,470.68 367.36,473.95" fill="#000" stroke="#000" stroke-width="0.6"/>
<line x1="381.04" y1="469.4" x2="368.19" y2="474.07" stroke="#000" stroke-width="1.25"/>
<polygon points="364.81,475.31 367.61,472.48 368.77,475.66" fill="#000" stroke="#000" stroke-width="0.6"/>
<line x1="384.28" y1="469.4" x2="369.62" y2="475.12" stroke="#000" stroke-width="1.25"/>
<polygon points="366.27,476.43 369.01,473.55 370.24,476.7" fill="#000" stroke="#000" stroke-width="0.6"/>
<line x1="387.52" y1="469.4" x2="372.15" y2="475.82" stroke="#000" stroke-width="1.25"/>
<polygon points="368.83,477.21 371.5,474.26 372.8,477.38" fill="#000" stroke="#000" stroke-width="0.6"/>
<line x1="390.76" y1="469.4" x2="375.7" y2="476.11" stroke="#000" stroke-width="1.25"/>
<polygon points="372.41,477.57 375.01,474.56 376.39,477.65" fill="#000" stroke="#000" stroke-width="0.6"/>
<line x1="394.01" y1="469.4" x2="378.11" y2="476.93" stroke="#000" stroke-width="1.25"/>
<polygon points="374.85,478.47 377.38,475.4 378.83,478.46" fill="#000" stroke="#000" stroke-width="0.6"/>
<line x1="397.25" y1="469.4" x2="380.25" y2="477.94" stroke="#000" stroke-width="1.25"/>
<polygon points="377.04,479.55 379.49,476.42 381.01,479.45" fill="#000" stroke="#000" stroke-width="0.6"/>
<line x1="400.49" y1="469.4" x2="383.58" y2="478.39" stroke="#000" stroke-width="1.25"/>
<polygon points="380.4,480.08 382.78,476.9 384.37,479.89" fill="#000" stroke="#000" stroke-width="0.6"/>
<line x1="403.73" y1="469.4" x2="388.03" y2="477.9" stroke="#000" stroke-width="1.25"/>
<polygon points="384.86,479.61 387.22,476.41 388.83,479.39" fill="#000" stroke="#000" stroke-width="0.6"/>
<line x1="406.98" y1="469.4" x2="393.11" y2="477.03" stroke="#000" stroke-width="1.25"/>
<polygon points="389.96,478.76 392.3,475.55 393.93,478.51" fill="#000" stroke="#000" stroke-width="0.6"/>
<line x1="410.22" y1="469.4" x2="398.6" y2="475.9" stroke="#000" stroke-width="1.25"/>
<polygon points="395.46,477.66 397.78,474.42 399.43,477.38" fill="#000" stroke="#000" stroke-width="0.6"/>
<line x1="413.46" y1="469.4" x2="404.22" y2="474.66" stroke="#000" stroke-width="1.25"/>
<polygon points="401.09,476.44 403.39,473.19 405.06,476.13" fill="#000" stroke="#000" stroke-width="0.6"/>
<line x1="416.7" y1="469.4" x2="409.25" y2="473.71" stroke="#000" stroke-width="1.25"/>
<polygon points="406.13,475.52 408.4,472.25 410.1,475.18" fill="#000" stroke="#000" stroke-width="0.6"/>
<line x1="419.95" y1="469.4" x2="413.22" y2="473.36" stroke="#000" stroke-width="1.25"/>
<polygon points="410.11,475.19 412.36,471.9 414.07,474.82" fill="#000" stroke="#000" stroke-width="0.6"/>
<line x1="423.19" y1="469.4" x2="416.2" y2="473.58" stroke="#000" stroke-width="1.25"/>
<polygon points="413.11,475.43 415.33,472.13 417.07,475.03" fill="#000" stroke="#000" stroke-width="0.6"/>
<line x1="426.43" y1="469.4" x2="419.17" y2="473.82" stroke="#000" stroke-width="1.25"/>
<polygon points="416.09,475.69 418.29,472.37 420.04,475.26" fill="#000" stroke="#000" stroke-width="0.6"/>
<line x1="429.67" y1="469.4" x2="422.54" y2="473.81" stroke="#000" stroke-width="1.25"/>
<polygon points="419.48,475.7 421.65,472.37 423.43,475.25" fill="#000" stroke="#000" stroke-width="0.6"/>
<line x1="432.92" y1="469.4" x2="424.95" y2="474.4" stroke="#000" stroke-width="1.25"/>
<polygon points="421.9,476.31 424.05,472.97 425.85,475.83" fill="#000" stroke="#000" stroke-width="0.6"/>
<line x1="436.16" y1="469.4" x2="423.96" y2="477.18" stroke="#000" stroke-width="1.25"/>
<polygon points="420.93,479.11 423.05,475.75 424.87,478.61" fill="#000" stroke="#000" stroke-width="0.6"/>
<line x1="439.4" y1="469.4" x2="423.66" y2="479.6" stroke="#000" stroke-width="1.25"/>
<polygon points="420.63,481.56 422.74,478.18 424.58,481.02" fill="#000" stroke="#000" stroke-width="0.6"/>
<line x1="442.64" y1="469.4" x2="424.25" y2="481.51" stroke="#000" stroke-width="1.25"/>
<polygon points="421.24,483.49 423.32,480.1 425.18,482.92" fill="#000" stroke="#000" stroke-width="0.6"/>
<line x1="445.89" y1="469.4" x2="425.95" y2="482.73" stroke="#000" stroke-width="1.25"/>
<polygon points="422.96,484.73 425.01,481.32 426.89,484.14" fill="#000" stroke="#000" stroke-width="0.6"/>
<line x1="449.13" y1="469.4" x2="429.03" y2="483.05" stroke="#000" stroke-width="1.25"/>
<polygon points="426.05,485.07 428.08,481.65 429.98,484.45" fill="#000" stroke="#000" stroke-width="0.6"/>
<line x1="452.37" y1="469.4" x2="432.54" y2="483.08" stroke="#000" stroke-width="1.25"/>
<polygon points="429.58,485.12 431.58,481.68 433.5,484.47" fill="#000" stroke="#000" stroke-width="0.6"/>
<line x1="455.61" y1="469.4" x2="435.99" y2="483.14" stroke="#000" stroke-width="1.25"/>
<polygon points="433.05,485.2 435.02,481.75 436.97,484.52" fill="#000" stroke="#000" stroke-width="0.6"/>
<line x1="458.86" y1="469.4" x2="439.62" y2="482.79" stroke="#000" stroke-width="1.25"/>
<polygon points="436.66,484.85 438.65,481.4 440.58,484.18" fill="#000" stroke="#000" stroke-width="0.6"/>
<line x1="462.1" y1="469.4" x2="443.55" y2="482.23" stroke="#000" stroke-width="1.25"/>
<polygon points="440.59,484.27 442.59,480.83 444.52,483.62" fill="#000" stroke="#000" stroke-width="0.6"/>
<line x1="465.34" y1="469.4" x2="447.18" y2="481.88" stroke="#000" stroke-width="1.25"/>
<polygon points="444.22,483.92 446.22,480.49 448.14,483.28" fill="#000" stroke="#000" stroke-width="0.6"/>
<line x1="468.58" y1="469.4" x2="450.51" y2="481.75" stroke="#000" stroke-width="1.25"/>
<polygon points="447.53,483.78 449.55,480.35 451.46,483.14" fill="#000" stroke="#000" stroke-width="0.6"/>
<line x1="471.83" y1="469.4" x2="452.69" y2="482.39" stroke="#000" stroke-width="1.25"/>
<polygon points="449.72,484.41 451.74,480.99 453.64,483.79" fill="#000" stroke="#000" stroke-width="0.6"/>
<line x1="475.07" y1="469.4" x2="454.9" y2="483" stroke="#000" stroke-width="1.25"/>
<polygon points="451.92,485.01 453.96,481.6 455.85,484.4" fill="#000" stroke="#000" stroke-width="0.6"/>
<line x1="478.31" y1="469.4" x2="458.5" y2="482.68" stroke="#000" stroke-width="1.25"/>
<polygon points="455.51,484.68 457.56,481.27 459.44,484.09" fill="#000" stroke="#000" stroke-width="0.6"/>
<line x1="481.55" y1="469.4" x2="463.32" y2="481.54" stroke="#000" stroke-width="1.25"/>
<polygon points="460.33,483.54 462.39,480.13 464.26,482.95" fill="#000" stroke="#000" stroke-width="0.6"/>
<line x1="484.8" y1="469.4" x2="467.94" y2="480.56" stroke="#000" stroke-width="1.25"/>
<polygon points="464.93,482.55 467,479.15 468.87,481.97" fill="#000" stroke="#000" stroke-width="0.6"/>
<line x1="488.04" y1="469.4" x2="472.56" y2="479.58" stroke="#000" stroke-width="1.25"/>
<polygon points="469.55,481.56 471.63,478.17 473.49,480.99" fill="#000" stroke="#000" stroke-width="0.6"/>
<line x1="491.28" y1="469.4" x2="477.8" y2="478.21" stroke="#000" stroke-width="1.25"/>
<polygon points="474.78,480.18 476.87,476.8 478.72,479.63" fill="#000" stroke="#000" stroke-width="0.6"/>
<line x1="494.52" y1="469.4" x2="483.38" y2="476.64" stroke="#000" stroke-width="1.25"/>
<polygon points="480.36,478.6 482.46,475.22 484.3,478.05" fill="#000" stroke="#000" stroke-width="0.6"/>
<line x1="497.77" y1="469.4" x2="486.26" y2="469.4" stroke="#000" stroke-width="1.25"/>
<polygon points="482.66,469.4 486.26,467.71 486.26,471.09" fill="#000" stroke="#000" stroke-width="0.6"/>
<line x1="501.01" y1="469.4" x2="490.15" y2="469.21" stroke="#000" stroke-width="1.25"/>
<polygon points="486.55,469.15 490.17,467.52 490.12,470.9" fill="#000" stroke="#000" stroke-width="0.6"/>
<line x1="504.25" y1="469.4" x2="493.83" y2="469.04" stroke="#000" stroke-width="1.25"/>
<polygon points="490.23,468.91 493.88,467.34 493.77,470.73" fill="#000" stroke="#000" stroke-width="0.6"/>
<line x1="507.49" y1="469.4" x2="497.59" y2="468.88" stroke="#000" stroke-width="1.25"/>
<polygon points="493.99,468.69 497.67,467.19 497.5,470.57" fill="#000" stroke="#000" stroke-width="0.6"/>
<line x1="510.74" y1="469.4" x2="500.78" y2="468.7" stroke="#000" stroke-width="1.25"/>
<polygon points="497.19,468.45 500.9,467.02 500.66,470.39" fill="#000" stroke="#000" stroke-width="0.6"/>
<line x1="513.98" y1="469.4" x2="502.27" y2="468.38" stroke="#000" stroke-width="1.25"/>
<polygon points="498.69,468.06 502.42,466.69 502.13,470.06" fill="#000" stroke="#000" stroke-width="0.6"/>
<line x1="517.22" y1="469.4" x2="505.04" y2="475.08" stroke="#000" stroke-width="1.25"/>
<polygon points="501.78,476.6 504.32,473.55 505.75,476.61" fill="#000" stroke="#000" stroke-width="0.6"/>
<line x1="520.46" y1="469.4" x2="507.36" y2="475.74" stroke="#000" stroke-width="1.25"/>
<polygon points="504.12,477.31 506.62,474.22 508.1,477.27" fill="#000" stroke="#000" stroke-width="0.6"/>
<line x1="523.71" y1="469.4" x2="509.93" y2="476.32" stroke="#000" stroke-width="1.25"/>
<polygon points="506.71,477.94 509.17,474.81 510.69,477.83" fill="#000" stroke="#000" stroke-width="0.6"/>
<line x1="526.95" y1="469.4" x2="512.52" y2="476.91" stroke="#000" stroke-width="1.25"/>
<polygon points="509.33,478.57 511.74,475.41 513.3,478.41" fill="#000" stroke="#000" stroke-width="0.6"/>
<line x1="530.19" y1="469.4" x2="513.86" y2="478.21" stroke="#000" stroke-width="1.25"/>
<polygon points="510.69,479.92 513.05,476.72 514.66,479.7" fill="#000" stroke="#000" stroke-width="0.6"/>
<line x1="533.43" y1="469.4" x2="514.28" y2="480.09" stroke="#000" stroke-width="1.25"/>
<polygon points="511.13,481.85 513.45,478.61 515.1,481.57" fill="#000" stroke="#000" stroke-width="0.6"/>
<line x1="536.68" y1="469.4" x2="515.97" y2="481.35" stroke="#000" stroke-width="1.25"/>
<polygon points="512.85,483.15 515.13,479.89 516.82,482.82" fill="#000" stroke="#000" stroke-width="0.6"/>
<line x1="539.92" y1="469.4" x2="519.46" y2="482.02" stroke="#000" stroke-width="1.25"/>
<polygon points="516.4,483.91 518.57,480.58 520.35,483.46" fill="#000" stroke="#000" stroke-width="0.6"/>
<line x1="543.16" y1="469.4" x2="522.98" y2="482.67" stroke="#000" stroke-width="1.25"/>
<polygon points="519.97,484.65 522.05,481.26 523.91,484.09" fill="#000" stroke="#000" stroke-width="0.6"/>
<line x1="546.4" y1="469.4" x2="526.51" y2="483.33" stroke="#000" stroke-width="1.25"/>
<polygon points="523.56,485.39 525.54,481.94 527.48,484.72" fill="#000" stroke="#000" stroke-width="0.6"/>
<line x1="549.65" y1="469.4" x2="529.65" y2="484.28" stroke="#000" stroke-width="1.25"/>
<polygon points="526.77,486.43 528.64,482.93 530.66,485.64" fill="#000" stroke="#000" stroke-width="0.6"/>
<line x1="552.89" y1="469.4" x2="532.95" y2="485.17" stroke="#000" stroke-width="1.25"/>
<polygon points="530.12,487.4 531.9,483.84 534,486.49" fill="#000" stroke="#000" stroke-width="0.6"/>
<line x1="556.13" y1="469.4" x2="537.09" y2="485.38" stroke="#000" stroke-width="1.25"/>
<polygon points="534.33,487.69 536,484.08 538.18,486.68" fill="#000" stroke="#000" stroke-width="0.6"/>
<line x1="559.37" y1="469.4" x2="542.92" y2="485.29" stroke="#000" stroke-width="1.25"/>
<polygon points="540.33,487.79 541.74,484.07 544.09,486.51" fill="#000" stroke="#000" stroke-width="0.6"/>
<line x1="562.62" y1="469.4" x2="551.09" y2="485.87" stroke="#000" stroke-width="1.25"/>
<polygon points="549.02,488.81 549.7,484.89 552.47,486.84" fill="#000" stroke="#000" stroke-width="0.6"/>
<line x1="565.86" y1="469.4" x2="557.97" y2="484.88" stroke="#000" stroke-width="1.25"/>
<polygon points="556.34,488.09 556.46,484.11 559.48,485.65" fill="#000" stroke="#000" stroke-width="0.6"/>
<line x1="569.1" y1="469.4" x2="562.12" y2="483.1" stroke="#000" stroke-width="1.25"/>
<polygon points="560.49,486.31 560.61,482.33 563.63,483.87" fill="#000" stroke="#000" stroke-width="0.6"/>
<line x1="572.34" y1="469.4" x2="564.47" y2="480.65" stroke="#000" stroke-width="1.25"/>
<polygon points="562.4,483.6 563.08,479.68 565.86,481.62" fill="#000" stroke="#000" stroke-width="0.6"/>
<line x1="575.59" y1="469.4" x2="562.94" y2="469.4" stroke="#000" stroke-width="1.25"/>
<polygon points="559.34,469.4 562.94,467.71 562.94,471.09" fill="#000" stroke="#000" stroke-width="0.6"/>
<line x1="578.83" y1="469.4" x2="566.67" y2="469.19" stroke="#000" stroke-width="1.25"/>
<polygon points="563.07,469.12 566.7,467.5 566.64,470.88" fill="#000" stroke="#000" stroke-width="0.6"/>
<line x1="582.07" y1="469.4" x2="570.69" y2="469" stroke="#000" stroke-width="1.25"/>
<polygon points="567.09,468.88 570.75,467.31 570.63,470.69" fill="#000" stroke="#000" stroke-width="0.6"/>
<line x1="585.31" y1="469.4" x2="576.11" y2="468.92" stroke="#000" stroke-width="1.25"/>
<polygon points="572.52,468.73 576.2,467.23 576.02,470.61" fill="#000" stroke="#000" stroke-width="0.6"/>
<line x1="588.56" y1="469.4" x2="582.5" y2="468.98" stroke="#000" stroke-width="1.25"/>
<polygon points="578.91,468.73 582.62,467.29 582.38,470.66" fill="#000" stroke="#000" stroke-width="0.6"/>
<line x1="591.8" y1="469.4" x2="586.89" y2="468.97" stroke="#000" stroke-width="1.25"/>
<polygon points="583.33,468.66 587.03,467.3 586.74,470.64" fill="#000" stroke="#000" stroke-width="0.6"/>
</g>
<polyline points="50.35,486.4 53.2,479.2 56.5,470.1 59.8,465.5 63,464.6 66.3,463.8 69.6,464.6 72.8,463.8 76.1,459.6 79.4,456.7 82.6,453.7 85.9,449.4 89.2,448.5 92.4,448.9 95.7,446.8 99,445.2 102.2,450.5 105.5,461.6 108.8,464.2 112,465.1 115.3,471.4 118.6,477.9 121.9,491 125.1,502.7 128.4,508.6 131.2,502.7 134.5,494.9 137.8,495.2 141,501.4 144.3,501.7 147.6,494.2 150.8,490.3 154.1,490.3 157.4,483.1 160.2,473.3 163.9,469.8 167.2,471.6 173.7,471.6 177,471.1 180.2,468.8 183.5,467.4 186.8,468.1 190,469.4 193.3,472 196.6,477.9 199.9,482.5 203.1,484.2 207.3,482.5 212.5,479 219,480.5 225.6,484.2 228.8,485.5 235.4,487.1 238.6,489.9 241.9,492 245.2,489.7 248.4,485.5 251.7,482.5 258.2,479.5 261.5,475.3 264.8,468.8 268,464.6 270.7,463.8 274.6,468.8 277.9,475.3 281.1,480.5 285.3,482.1 290.5,477.6 293.8,477.2 300.3,478.6 306.8,480.3 313.4,481.6 319.9,482.5 323.2,485.5 326.4,492.3 329.7,498.6 332.3,502.1 335.6,496.2 339.5,485.7 342.8,476.6 346.1,468.8 349.3,464.8 352.6,467.2 355.9,471.4 359.1,474.6 363.3,479.2 367.8,483.1 371.8,480.3 375,477.6 378.3,474 381.6,466.8 384.8,461.6 388.1,459.6 391.4,460.6 394.6,456.7 397.9,452.8 401.2,453.3 404.4,457.6 407.7,463.5 411,470.7 414.2,477.9 417.5,482.9 420.8,484.2 424.1,482.5 427.3,481.8 430.6,482.5 433.2,479.2 435.8,467.4 438.2,457.2 440,452.8 443.2,443.9 446.5,439.3 449.8,439.3 453,440 456.3,440.3 459.6,442 462.8,444.6 468.1,446.3 471.7,442.6 475.3,439 478.5,440.6 482.4,447.2 485.7,451.5 489,456.3 492.2,463.5 495.5,471.4 498.8,475 502.1,475.9 505.3,477.2 509.9,479.2 513.1,474.6 516.4,469.4 520.6,465.5 527.1,460.9 530.4,454.4 533.6,445.2 536.9,440 540.2,440 546.7,439.3 550,437.4 553.3,436.1 556.5,438 559.8,443.9 563.1,451.8 566.3,459 569.6,464.2 573.5,469.4 576.8,471.6 580.1,472.4 583.3,475.3 586.6,483.1 589.9,492.3 591.6,497.2" fill="none" stroke="rgb(30,60,255)" stroke-width="1.4" stroke-linejoin="round" stroke-linecap="round" />
<polyline points="50.35,615.9 53.2,614.4 56.5,603.6 59.8,606.5 63,613.1 66.3,611.1 69.6,608.5 72.8,608.9 76.1,607.6 79.4,603.9 82.6,596.7 85.9,594.5 89.2,589.8 92.4,589.3 95.7,601.9 99,607.8 102.2,611.1 105.5,617 108.8,621.2 112,623.2 115.3,622.6 118.6,623.2 121.9,619.6 125.1,615.7 126,613.7 128.4,611.5 131.2,617 134.5,615.4 137.8,609.1 141,611.5 144.3,609.8 147.6,618.3 150.8,620.9 154.1,617.6 157.4,615.4 160.6,610.4 163.9,600.6 167.2,592.8 170.4,588 173.7,590.6 177,592.8 180.2,593.4 183.5,603.9 186.8,613.3 190,617 193.3,620.6 196.6,620.6 199.9,617 203.1,609.1 204,607.6 207.3,603.2 212.5,598.7 215.8,593.4 219,589.5 222.3,592.8 225.6,596.1 228.8,595.4 232.1,592.8 235.4,590.8 238.6,588.2 241.9,584.6 245.2,582.3 248.4,583.2 251.7,586.9 255,590.6 258.2,592.8 261.5,600.6 264.8,607.8 268,611.1 271.3,610.4 274.6,610.2 277.2,609.4 281.1,605.2 282,602.9 285.3,600 290.5,597.1 293.8,591.5 297,586.3 300.3,588.9 303.6,593.7 306.8,595 310.1,593.7 313.4,593.2 316.6,593.2 319.9,590.2 323.2,584 325.8,582.7 329.7,586.9 333,590.2 336.2,593.2 339.5,600 342.8,607.2 346.1,610.2 349.3,609.4 352.6,608.9 355.2,609.4 359.1,605.9 360,602.6 364.6,596.3 367.8,597.4 371.8,593.4 375,590.6 378.3,591.1 381.6,595 384.8,592.8 388.1,586.3 391.4,582.7 394.2,580.6 397.9,573.8 400.8,569.3 404.4,570.6 407.7,573.8 411,578.4 414.2,584.3 417.5,592.8 420.1,601.9 423.4,607.6 426.7,606.8 431.9,607.2 435.2,602.6 438,598 442.6,590.2 445.8,586.9 449.1,583.2 452.4,576.5 455.6,578.4 458.9,582.3 462.2,581.7 465.5,577.1 468.7,573.8 472,571.9 475.3,566.3 478.5,560.8 481.8,559.7 485.1,566.3 488.3,572.3 491.6,576.5 494.9,587.6 498.1,599.3 501.4,603.9 504.7,608.5 507.9,612.8 510.5,612.4 513.8,605.9 516,603.9 520.6,597.6 523.8,598.4 527.1,596.3 530.4,593.2 533.6,593.2 536.9,599.7 540.2,600.6 543.5,599.7 546.7,597.1 550,595.8 553.3,591.9 556.5,588.2 559.8,590.2 563.1,594.1 566.3,599.3 569.6,604.6 572.9,611.1 576.1,623.5 578.7,631.1 582,631.4 585.3,629.8 588.5,629.4 591.6,618.3" fill="none" stroke="rgb(30,60,255)" stroke-width="1.5" stroke-linejoin="round" stroke-linecap="round" />
<line x1="50.3" y1="262.7" x2="590.8" y2="262.7" stroke="rgb(170,170,170)" stroke-width="1.4" stroke-dasharray="1.5 4.98" stroke-dashoffset="0.4"/>
<line x1="50.3" y1="246.34" x2="590.8" y2="246.34" stroke="rgb(170,170,170)" stroke-width="1.4" stroke-dasharray="1.5 4.98" stroke-dashoffset="0.4"/>
<line x1="50.3" y1="229.97" x2="590.8" y2="229.97" stroke="rgb(170,170,170)" stroke-width="1.4" stroke-dasharray="1.5 4.98" stroke-dashoffset="0.4"/>
<line x1="50.3" y1="213.61" x2="590.8" y2="213.61" stroke="rgb(170,170,170)" stroke-width="1.4" stroke-dasharray="1.5 4.98" stroke-dashoffset="0.4"/>
<line x1="50.3" y1="197.25" x2="590.8" y2="197.25" stroke="rgb(170,170,170)" stroke-width="1.4" stroke-dasharray="1.5 4.98" stroke-dashoffset="0.4"/>
<line x1="50.3" y1="180.88" x2="590.8" y2="180.88" stroke="rgb(170,170,170)" stroke-width="1.4" stroke-dasharray="1.5 4.98" stroke-dashoffset="0.4"/>
<line x1="50.3" y1="262.7" x2="50.3" y2="172.7" stroke="rgb(170,170,170)" stroke-width="1.4" stroke-dasharray="1.5 4.96"/>
<line x1="128.12" y1="262.7" x2="128.12" y2="172.7" stroke="rgb(170,170,170)" stroke-width="1.4" stroke-dasharray="1.5 4.96"/>
<line x1="205.94" y1="262.7" x2="205.94" y2="172.7" stroke="rgb(170,170,170)" stroke-width="1.4" stroke-dasharray="1.5 4.96"/>
<line x1="283.76" y1="262.7" x2="283.76" y2="172.7" stroke="rgb(170,170,170)" stroke-width="1.4" stroke-dasharray="1.5 4.96"/>
<line x1="361.58" y1="262.7" x2="361.58" y2="172.7" stroke="rgb(170,170,170)" stroke-width="1.4" stroke-dasharray="1.5 4.96"/>
<line x1="439.4" y1="262.7" x2="439.4" y2="172.7" stroke="rgb(170,170,170)" stroke-width="1.4" stroke-dasharray="1.5 4.96"/>
<line x1="517.22" y1="262.7" x2="517.22" y2="172.7" stroke="rgb(170,170,170)" stroke-width="1.4" stroke-dasharray="1.5 4.96"/>
<line x1="50.3" y1="388.7" x2="590.8" y2="388.7" stroke="rgb(170,170,170)" stroke-width="1.4" stroke-dasharray="1.5 4.98" stroke-dashoffset="0.4"/>
<line x1="50.3" y1="370.7" x2="590.8" y2="370.7" stroke="rgb(170,170,170)" stroke-width="1.4" stroke-dasharray="1.5 4.98" stroke-dashoffset="0.4"/>
<line x1="50.3" y1="352.7" x2="590.8" y2="352.7" stroke="rgb(170,170,170)" stroke-width="1.4" stroke-dasharray="1.5 4.98" stroke-dashoffset="0.4"/>
<line x1="50.3" y1="334.7" x2="590.8" y2="334.7" stroke="rgb(170,170,170)" stroke-width="1.4" stroke-dasharray="1.5 4.98" stroke-dashoffset="0.4"/>
<line x1="50.3" y1="316.7" x2="590.8" y2="316.7" stroke="rgb(170,170,170)" stroke-width="1.4" stroke-dasharray="1.5 4.98" stroke-dashoffset="0.4"/>
<line x1="50.3" y1="298.7" x2="590.8" y2="298.7" stroke="rgb(170,170,170)" stroke-width="1.4" stroke-dasharray="1.5 4.98" stroke-dashoffset="0.4"/>
<line x1="50.3" y1="388.7" x2="50.3" y2="298.7" stroke="rgb(170,170,170)" stroke-width="1.4" stroke-dasharray="1.5 4.96"/>
<line x1="128.12" y1="388.7" x2="128.12" y2="298.7" stroke="rgb(170,170,170)" stroke-width="1.4" stroke-dasharray="1.5 4.96"/>
<line x1="205.94" y1="388.7" x2="205.94" y2="298.7" stroke="rgb(170,170,170)" stroke-width="1.4" stroke-dasharray="1.5 4.96"/>
<line x1="283.76" y1="388.7" x2="283.76" y2="298.7" stroke="rgb(170,170,170)" stroke-width="1.4" stroke-dasharray="1.5 4.96"/>
<line x1="361.58" y1="388.7" x2="361.58" y2="298.7" stroke="rgb(170,170,170)" stroke-width="1.4" stroke-dasharray="1.5 4.96"/>
<line x1="439.4" y1="388.7" x2="439.4" y2="298.7" stroke="rgb(170,170,170)" stroke-width="1.4" stroke-dasharray="1.5 4.96"/>
<line x1="517.22" y1="388.7" x2="517.22" y2="298.7" stroke="rgb(170,170,170)" stroke-width="1.4" stroke-dasharray="1.5 4.96"/>
<line x1="50.3" y1="514.7" x2="590.8" y2="514.7" stroke="rgb(170,170,170)" stroke-width="1.4" stroke-dasharray="1.5 4.98" stroke-dashoffset="0.4"/>
<line x1="50.3" y1="494.7" x2="590.8" y2="494.7" stroke="rgb(170,170,170)" stroke-width="1.4" stroke-dasharray="1.5 4.98" stroke-dashoffset="0.4"/>
<line x1="50.3" y1="474.7" x2="590.8" y2="474.7" stroke="rgb(170,170,170)" stroke-width="1.4" stroke-dasharray="1.5 4.98" stroke-dashoffset="0.4"/>
<line x1="50.3" y1="454.7" x2="590.8" y2="454.7" stroke="rgb(170,170,170)" stroke-width="1.4" stroke-dasharray="1.5 4.98" stroke-dashoffset="0.4"/>
<line x1="50.3" y1="434.7" x2="590.8" y2="434.7" stroke="rgb(170,170,170)" stroke-width="1.4" stroke-dasharray="1.5 4.98" stroke-dashoffset="0.4"/>
<line x1="50.3" y1="514.7" x2="50.3" y2="424.7" stroke="rgb(170,170,170)" stroke-width="1.4" stroke-dasharray="1.5 4.96"/>
<line x1="128.12" y1="514.7" x2="128.12" y2="424.7" stroke="rgb(170,170,170)" stroke-width="1.4" stroke-dasharray="1.5 4.96"/>
<line x1="205.94" y1="514.7" x2="205.94" y2="424.7" stroke="rgb(170,170,170)" stroke-width="1.4" stroke-dasharray="1.5 4.96"/>
<line x1="283.76" y1="514.7" x2="283.76" y2="424.7" stroke="rgb(170,170,170)" stroke-width="1.4" stroke-dasharray="1.5 4.96"/>
<line x1="361.58" y1="514.7" x2="361.58" y2="424.7" stroke="rgb(170,170,170)" stroke-width="1.4" stroke-dasharray="1.5 4.96"/>
<line x1="439.4" y1="514.7" x2="439.4" y2="424.7" stroke="rgb(170,170,170)" stroke-width="1.4" stroke-dasharray="1.5 4.96"/>
<line x1="517.22" y1="514.7" x2="517.22" y2="424.7" stroke="rgb(170,170,170)" stroke-width="1.4" stroke-dasharray="1.5 4.96"/>
<line x1="50.3" y1="632.52" x2="590.8" y2="632.52" stroke="rgb(170,170,170)" stroke-width="1.4" stroke-dasharray="1.5 4.98" stroke-dashoffset="0.4"/>
<line x1="50.3" y1="616.15" x2="590.8" y2="616.15" stroke="rgb(170,170,170)" stroke-width="1.4" stroke-dasharray="1.5 4.98" stroke-dashoffset="0.4"/>
<line x1="50.3" y1="599.79" x2="590.8" y2="599.79" stroke="rgb(170,170,170)" stroke-width="1.4" stroke-dasharray="1.5 4.98" stroke-dashoffset="0.4"/>
<line x1="50.3" y1="583.43" x2="590.8" y2="583.43" stroke="rgb(170,170,170)" stroke-width="1.4" stroke-dasharray="1.5 4.98" stroke-dashoffset="0.4"/>
<line x1="50.3" y1="567.06" x2="590.8" y2="567.06" stroke="rgb(170,170,170)" stroke-width="1.4" stroke-dasharray="1.5 4.98" stroke-dashoffset="0.4"/>
<line x1="50.3" y1="550.7" x2="590.8" y2="550.7" stroke="rgb(170,170,170)" stroke-width="1.4" stroke-dasharray="1.5 4.98" stroke-dashoffset="0.4"/>
<line x1="50.3" y1="640.7" x2="50.3" y2="550.7" stroke="rgb(170,170,170)" stroke-width="1.4" stroke-dasharray="1.5 4.96"/>
<line x1="128.12" y1="640.7" x2="128.12" y2="550.7" stroke="rgb(170,170,170)" stroke-width="1.4" stroke-dasharray="1.5 4.96"/>
<line x1="205.94" y1="640.7" x2="205.94" y2="550.7" stroke="rgb(170,170,170)" stroke-width="1.4" stroke-dasharray="1.5 4.96"/>
<line x1="283.76" y1="640.7" x2="283.76" y2="550.7" stroke="rgb(170,170,170)" stroke-width="1.4" stroke-dasharray="1.5 4.96"/>
<line x1="361.58" y1="640.7" x2="361.58" y2="550.7" stroke="rgb(170,170,170)" stroke-width="1.4" stroke-dasharray="1.5 4.96"/>
<line x1="439.4" y1="640.7" x2="439.4" y2="550.7" stroke="rgb(170,170,170)" stroke-width="1.4" stroke-dasharray="1.5 4.96"/>
<line x1="517.22" y1="640.7" x2="517.22" y2="550.7" stroke="rgb(170,170,170)" stroke-width="1.4" stroke-dasharray="1.5 4.96"/>
<rect x="68.13" y="762.11" width="3.24" height="4.59" fill="rgb(246,182,128)" stroke="rgb(240,130,40)" stroke-width="1.0"/>
<rect x="77.86" y="711.44" width="3.24" height="55.26" fill="rgb(246,182,128)" stroke="rgb(240,130,40)" stroke-width="1.0"/>
<rect x="81.1" y="725.3" width="3.24" height="41.4" fill="rgb(246,182,128)" stroke="rgb(240,130,40)" stroke-width="1.0"/>
<rect x="84.35" y="682.46" width="3.24" height="84.24" fill="rgb(246,182,128)" stroke="rgb(240,130,40)" stroke-width="1.0"/>
<rect x="87.59" y="677.15" width="3.24" height="89.55" fill="rgb(246,182,128)" stroke="rgb(240,130,40)" stroke-width="1.0"/>
<rect x="90.83" y="681.92" width="3.24" height="84.78" fill="rgb(246,182,128)" stroke="rgb(240,130,40)" stroke-width="1.0"/>
<rect x="94.07" y="711.44" width="3.24" height="55.26" fill="rgb(246,182,128)" stroke="rgb(240,130,40)" stroke-width="1.0"/>
<rect x="97.32" y="711.44" width="3.24" height="55.26" fill="rgb(246,182,128)" stroke="rgb(240,130,40)" stroke-width="1.0"/>
<rect x="100.56" y="701.09" width="3.24" height="65.61" fill="rgb(246,182,128)" stroke="rgb(240,130,40)" stroke-width="1.0"/>
<rect x="103.8" y="677.15" width="3.24" height="89.55" fill="rgb(246,182,128)" stroke="rgb(240,130,40)" stroke-width="1.0"/>
<rect x="107.04" y="680.03" width="3.24" height="86.67" fill="rgb(246,182,128)" stroke="rgb(240,130,40)" stroke-width="1.0"/>
<rect x="110.29" y="677.15" width="3.24" height="89.55" fill="rgb(246,182,128)" stroke="rgb(240,130,40)" stroke-width="1.0"/>
<rect x="113.53" y="677.15" width="3.24" height="89.55" fill="rgb(246,182,128)" stroke="rgb(240,130,40)" stroke-width="1.0"/>
<rect x="116.77" y="677.15" width="3.24" height="89.55" fill="rgb(246,182,128)" stroke="rgb(240,130,40)" stroke-width="1.0"/>
<rect x="120.01" y="677.15" width="3.24" height="89.55" fill="rgb(246,182,128)" stroke="rgb(240,130,40)" stroke-width="1.0"/>
<rect x="123.26" y="682.46" width="3.24" height="84.24" fill="rgb(246,182,128)" stroke="rgb(240,130,40)" stroke-width="1.0"/>
<rect x="126.5" y="677.15" width="3.24" height="89.55" fill="rgb(246,182,128)" stroke="rgb(240,130,40)" stroke-width="1.0"/>
<rect x="129.74" y="677.15" width="3.24" height="89.55" fill="rgb(246,182,128)" stroke="rgb(240,130,40)" stroke-width="1.0"/>
<rect x="136.23" y="732.59" width="3.24" height="34.11" fill="rgb(246,182,128)" stroke="rgb(240,130,40)" stroke-width="1.0"/>
<rect x="139.47" y="743.3" width="3.24" height="23.4" fill="rgb(246,182,128)" stroke="rgb(240,130,40)" stroke-width="1.0"/>
<rect x="142.71" y="727.37" width="3.24" height="39.33" fill="rgb(246,182,128)" stroke="rgb(240,130,40)" stroke-width="1.0"/>
<rect x="145.95" y="696.77" width="3.24" height="69.93" fill="rgb(246,182,128)" stroke="rgb(240,130,40)" stroke-width="1.0"/>
<rect x="149.2" y="739.25" width="3.24" height="27.45" fill="rgb(246,182,128)" stroke="rgb(240,130,40)" stroke-width="1.0"/>
<rect x="152.44" y="755.18" width="3.24" height="11.52" fill="rgb(246,182,128)" stroke="rgb(240,130,40)" stroke-width="1.0"/>
<rect x="509.12" y="721.34" width="3.24" height="45.36" fill="rgb(246,182,128)" stroke="rgb(240,130,40)" stroke-width="1.0"/>
<rect x="512.36" y="694.34" width="3.24" height="72.36" fill="rgb(246,182,128)" stroke="rgb(240,130,40)" stroke-width="1.0"/>
<rect x="515.6" y="677.15" width="3.24" height="89.55" fill="rgb(246,182,128)" stroke="rgb(240,130,40)" stroke-width="1.0"/>
<rect x="518.84" y="677.15" width="3.24" height="89.55" fill="rgb(246,182,128)" stroke="rgb(240,130,40)" stroke-width="1.0"/>
<rect x="522.09" y="677.15" width="3.24" height="89.55" fill="rgb(246,182,128)" stroke="rgb(240,130,40)" stroke-width="1.0"/>
<rect x="525.33" y="738.26" width="3.24" height="28.44" fill="rgb(246,182,128)" stroke="rgb(240,130,40)" stroke-width="1.0"/>
<rect x="531.81" y="763.64" width="3.24" height="3.06" fill="rgb(246,182,128)" stroke="rgb(240,130,40)" stroke-width="1.0"/>
<rect x="535.06" y="726.65" width="3.24" height="40.05" fill="rgb(246,182,128)" stroke="rgb(240,130,40)" stroke-width="1.0"/>
<rect x="538.3" y="745.64" width="3.24" height="21.06" fill="rgb(246,182,128)" stroke="rgb(240,130,40)" stroke-width="1.0"/>
<rect x="544.78" y="738.26" width="3.24" height="28.44" fill="rgb(246,182,128)" stroke="rgb(240,130,40)" stroke-width="1.0"/>
<rect x="548.03" y="691.82" width="3.24" height="74.88" fill="rgb(246,182,128)" stroke="rgb(240,130,40)" stroke-width="1.0"/>
<rect x="551.27" y="689.3" width="3.24" height="77.4" fill="rgb(246,182,128)" stroke="rgb(240,130,40)" stroke-width="1.0"/>
<rect x="554.51" y="690.2" width="3.24" height="76.5" fill="rgb(246,182,128)" stroke="rgb(240,130,40)" stroke-width="1.0"/>
<rect x="557.75" y="678.23" width="3.24" height="88.47" fill="rgb(246,182,128)" stroke="rgb(240,130,40)" stroke-width="1.0"/>
<rect x="561" y="681.92" width="3.24" height="84.78" fill="rgb(246,182,128)" stroke="rgb(240,130,40)" stroke-width="1.0"/>
<rect x="564.24" y="691.82" width="3.24" height="74.88" fill="rgb(246,182,128)" stroke="rgb(240,130,40)" stroke-width="1.0"/>
<rect x="567.48" y="690.2" width="3.24" height="76.5" fill="rgb(246,182,128)" stroke="rgb(240,130,40)" stroke-width="1.0"/>
<rect x="570.72" y="682.1" width="3.24" height="84.6" fill="rgb(246,182,128)" stroke="rgb(240,130,40)" stroke-width="1.0"/>
<rect x="573.97" y="685.7" width="3.24" height="81" fill="rgb(246,182,128)" stroke="rgb(240,130,40)" stroke-width="1.0"/>
<rect x="577.21" y="690.2" width="3.24" height="76.5" fill="rgb(246,182,128)" stroke="rgb(240,130,40)" stroke-width="1.0"/>
<rect x="580.45" y="709.1" width="3.24" height="57.6" fill="rgb(246,182,128)" stroke="rgb(240,130,40)" stroke-width="1.0"/>
<rect x="583.69" y="677.15" width="3.24" height="89.55" fill="rgb(246,182,128)" stroke="rgb(240,130,40)" stroke-width="1.0"/>
<rect x="586.94" y="677.15" width="3.24" height="89.55" fill="rgb(246,182,128)" stroke="rgb(240,130,40)" stroke-width="1.0"/>
<rect x="103.8" y="763.64" width="3.24" height="3.06" fill="rgba(0,200,0,0.25)" stroke="rgb(0,220,0)" stroke-width="2.1"/>
<rect x="110.29" y="763.01" width="3.24" height="3.69" fill="rgba(0,200,0,0.25)" stroke="rgb(0,220,0)" stroke-width="2.1"/>
<rect x="113.53" y="762.11" width="3.24" height="4.59" fill="rgba(0,200,0,0.25)" stroke="rgb(0,220,0)" stroke-width="2.1"/>
<rect x="120.01" y="723.41" width="3.24" height="43.29" fill="rgba(0,200,0,0.25)" stroke="rgb(0,220,0)" stroke-width="2.1"/>
<rect x="123.26" y="722.78" width="3.24" height="43.92" fill="rgba(0,200,0,0.25)" stroke="rgb(0,220,0)" stroke-width="2.1"/>
<rect x="126.5" y="692.99" width="3.24" height="73.71" fill="rgba(0,200,0,0.25)" stroke="rgb(0,220,0)" stroke-width="2.1"/>
<rect x="129.74" y="677.15" width="3.24" height="89.55" fill="rgba(0,200,0,0.25)" stroke="rgb(0,220,0)" stroke-width="2.1"/>
<rect x="132.98" y="693.98" width="3.24" height="72.72" fill="rgba(0,200,0,0.25)" stroke="rgb(0,220,0)" stroke-width="2.1"/>
<rect x="136.23" y="737.9" width="3.24" height="28.8" fill="rgba(0,200,0,0.25)" stroke="rgb(0,220,0)" stroke-width="2.1"/>
<rect x="139.47" y="758.6" width="3.24" height="8.1" fill="rgba(0,200,0,0.25)" stroke="rgb(0,220,0)" stroke-width="2.1"/>
<rect x="142.71" y="758.6" width="3.24" height="8.1" fill="rgba(0,200,0,0.25)" stroke="rgb(0,220,0)" stroke-width="2.1"/>
<rect x="162.17" y="758.33" width="3.24" height="8.37" fill="rgba(0,200,0,0.25)" stroke="rgb(0,220,0)" stroke-width="2.1"/>
<rect x="525.33" y="753.74" width="3.24" height="12.96" fill="rgba(0,200,0,0.25)" stroke="rgb(0,220,0)" stroke-width="2.1"/>
<rect x="548.03" y="751.22" width="3.24" height="15.48" fill="rgba(0,200,0,0.25)" stroke="rgb(0,220,0)" stroke-width="2.1"/>
<rect x="551.27" y="692.09" width="3.24" height="74.61" fill="rgba(0,200,0,0.25)" stroke="rgb(0,220,0)" stroke-width="2.1"/>
<rect x="554.51" y="686.33" width="3.24" height="80.37" fill="rgba(0,200,0,0.25)" stroke="rgb(0,220,0)" stroke-width="2.1"/>
<rect x="557.75" y="695.78" width="3.24" height="70.92" fill="rgba(0,200,0,0.25)" stroke="rgb(0,220,0)" stroke-width="2.1"/>
<rect x="561" y="689.3" width="3.24" height="77.4" fill="rgba(0,200,0,0.25)" stroke="rgb(0,220,0)" stroke-width="2.1"/>
<rect x="564.24" y="703.88" width="3.24" height="62.82" fill="rgba(0,200,0,0.25)" stroke="rgb(0,220,0)" stroke-width="2.1"/>
<rect x="567.48" y="683.45" width="3.24" height="83.25" fill="rgba(0,200,0,0.25)" stroke="rgb(0,220,0)" stroke-width="2.1"/>
<rect x="570.72" y="677.15" width="3.24" height="89.55" fill="rgba(0,200,0,0.25)" stroke="rgb(0,220,0)" stroke-width="2.1"/>
<rect x="573.97" y="677.15" width="3.24" height="89.55" fill="rgba(0,200,0,0.25)" stroke="rgb(0,220,0)" stroke-width="2.1"/>
<rect x="577.21" y="682.46" width="3.24" height="84.24" fill="rgba(0,200,0,0.25)" stroke="rgb(0,220,0)" stroke-width="2.1"/>
<rect x="580.45" y="677.15" width="3.24" height="89.55" fill="rgba(0,200,0,0.25)" stroke="rgb(0,220,0)" stroke-width="2.1"/>
<rect x="583.69" y="677.15" width="3.24" height="89.55" fill="rgba(0,200,0,0.25)" stroke="rgb(0,220,0)" stroke-width="2.1"/>
<rect x="586.94" y="677.15" width="3.24" height="89.55" fill="rgba(0,200,0,0.25)" stroke="rgb(0,220,0)" stroke-width="2.1"/>
<line x1="48.68" y1="766.7" x2="593.42" y2="766.7" stroke="rgb(30,60,255)" stroke-width="1.3"/>
<rect x="55.16" y="764.18" width="3.24" height="2.52" fill="none" stroke="rgb(30,60,255)" stroke-width="1.0"/>
<rect x="58.41" y="759.32" width="3.24" height="7.38" fill="none" stroke="rgb(30,60,255)" stroke-width="1.0"/>
<rect x="61.65" y="753.74" width="3.24" height="12.96" fill="none" stroke="rgb(30,60,255)" stroke-width="1.0"/>
<rect x="64.89" y="762.11" width="3.24" height="4.59" fill="none" stroke="rgb(30,60,255)" stroke-width="1.0"/>
<rect x="97.32" y="735.11" width="3.24" height="31.59" fill="none" stroke="rgb(30,60,255)" stroke-width="1.0"/>
<rect x="100.56" y="703.61" width="3.24" height="63.09" fill="none" stroke="rgb(30,60,255)" stroke-width="1.0"/>
<rect x="103.8" y="742.49" width="3.24" height="24.21" fill="none" stroke="rgb(30,60,255)" stroke-width="1.0"/>
<rect x="107.04" y="756.8" width="3.24" height="9.9" fill="none" stroke="rgb(30,60,255)" stroke-width="1.0"/>
<rect x="129.74" y="762.29" width="3.24" height="4.41" fill="none" stroke="rgb(30,60,255)" stroke-width="1.0"/>
<rect x="132.98" y="758.6" width="3.24" height="8.1" fill="none" stroke="rgb(30,60,255)" stroke-width="1.0"/>
<rect x="136.23" y="729.62" width="3.24" height="37.08" fill="none" stroke="rgb(30,60,255)" stroke-width="1.0"/>
<rect x="139.47" y="726.65" width="3.24" height="40.05" fill="none" stroke="rgb(30,60,255)" stroke-width="1.0"/>
<rect x="142.71" y="734.48" width="3.24" height="32.22" fill="none" stroke="rgb(30,60,255)" stroke-width="1.0"/>
<rect x="145.95" y="690.29" width="3.24" height="76.41" fill="none" stroke="rgb(30,60,255)" stroke-width="1.0"/>
<rect x="149.2" y="679.4" width="3.24" height="87.3" fill="none" stroke="rgb(30,60,255)" stroke-width="1.0"/>
<rect x="152.44" y="676.97" width="3.24" height="89.73" fill="none" stroke="rgb(30,60,255)" stroke-width="1.0"/>
<rect x="155.68" y="676.97" width="3.24" height="89.73" fill="none" stroke="rgb(30,60,255)" stroke-width="1.0"/>
<rect x="158.92" y="676.97" width="3.24" height="89.73" fill="none" stroke="rgb(30,60,255)" stroke-width="1.0"/>
<rect x="162.17" y="676.97" width="3.24" height="89.73" fill="none" stroke="rgb(30,60,255)" stroke-width="1.0"/>
<rect x="165.41" y="676.97" width="3.24" height="89.73" fill="none" stroke="rgb(30,60,255)" stroke-width="1.0"/>
<rect x="168.65" y="681.29" width="3.24" height="85.41" fill="none" stroke="rgb(30,60,255)" stroke-width="1.0"/>
<rect x="171.89" y="684.35" width="3.24" height="82.35" fill="none" stroke="rgb(30,60,255)" stroke-width="1.0"/>
<rect x="175.14" y="708.47" width="3.24" height="58.23" fill="none" stroke="rgb(30,60,255)" stroke-width="1.0"/>
<rect x="178.38" y="676.97" width="3.24" height="89.73" fill="none" stroke="rgb(30,60,255)" stroke-width="1.0"/>
<rect x="181.62" y="713.51" width="3.24" height="53.19" fill="none" stroke="rgb(30,60,255)" stroke-width="1.0"/>
<rect x="184.86" y="707.57" width="3.24" height="59.13" fill="none" stroke="rgb(30,60,255)" stroke-width="1.0"/>
<rect x="188.11" y="724.58" width="3.24" height="42.12" fill="none" stroke="rgb(30,60,255)" stroke-width="1.0"/>
<rect x="191.35" y="755.9" width="3.24" height="10.8" fill="none" stroke="rgb(30,60,255)" stroke-width="1.0"/>
<rect x="317.81" y="765.35" width="3.24" height="1.35" fill="none" stroke="rgb(30,60,255)" stroke-width="1.0"/>
<rect x="343.75" y="763.55" width="3.24" height="3.15" fill="none" stroke="rgb(30,60,255)" stroke-width="1.0"/>
<rect x="350.23" y="761.84" width="3.24" height="4.86" fill="none" stroke="rgb(30,60,255)" stroke-width="1.0"/>
<rect x="353.48" y="765.08" width="3.24" height="1.62" fill="none" stroke="rgb(30,60,255)" stroke-width="1.0"/>
<rect x="476.69" y="762.29" width="3.24" height="4.41" fill="none" stroke="rgb(30,60,255)" stroke-width="1.0"/>
<rect x="479.93" y="758.51" width="3.24" height="8.19" fill="none" stroke="rgb(30,60,255)" stroke-width="1.0"/>
<rect x="483.18" y="754.73" width="3.24" height="11.97" fill="none" stroke="rgb(30,60,255)" stroke-width="1.0"/>
<rect x="486.42" y="765.53" width="3.24" height="1.17" fill="none" stroke="rgb(30,60,255)" stroke-width="1.0"/>
<rect x="586.94" y="762.29" width="3.24" height="4.41" fill="none" stroke="rgb(30,60,255)" stroke-width="1.0"/>
<rect x="590.18" y="739.97" width="3.24" height="26.73" fill="none" stroke="rgb(30,60,255)" stroke-width="1.0"/>
<line x1="50.3" y1="766.7" x2="590.8" y2="766.7" stroke="rgb(170,170,170)" stroke-width="1.4" stroke-dasharray="1.5 4.98" stroke-dashoffset="0.4"/>
<line x1="50.3" y1="748.7" x2="590.8" y2="748.7" stroke="rgb(170,170,170)" stroke-width="1.4" stroke-dasharray="1.5 4.98" stroke-dashoffset="0.4"/>
<line x1="50.3" y1="730.7" x2="590.8" y2="730.7" stroke="rgb(170,170,170)" stroke-width="1.4" stroke-dasharray="1.5 4.98" stroke-dashoffset="0.4"/>
<line x1="50.3" y1="712.7" x2="590.8" y2="712.7" stroke="rgb(170,170,170)" stroke-width="1.4" stroke-dasharray="1.5 4.98" stroke-dashoffset="0.4"/>
<line x1="50.3" y1="694.7" x2="590.8" y2="694.7" stroke="rgb(170,170,170)" stroke-width="1.4" stroke-dasharray="1.5 4.98" stroke-dashoffset="0.4"/>
<line x1="50.3" y1="676.7" x2="590.8" y2="676.7" stroke="rgb(170,170,170)" stroke-width="1.4" stroke-dasharray="1.5 4.98" stroke-dashoffset="0.4"/>
<line x1="50.3" y1="766.7" x2="50.3" y2="676.7" stroke="rgb(170,170,170)" stroke-width="1.4" stroke-dasharray="1.5 4.96"/>
<line x1="128.12" y1="766.7" x2="128.12" y2="676.7" stroke="rgb(170,170,170)" stroke-width="1.4" stroke-dasharray="1.5 4.96"/>
<line x1="205.94" y1="766.7" x2="205.94" y2="676.7" stroke="rgb(170,170,170)" stroke-width="1.4" stroke-dasharray="1.5 4.96"/>
<line x1="283.76" y1="766.7" x2="283.76" y2="676.7" stroke="rgb(170,170,170)" stroke-width="1.4" stroke-dasharray="1.5 4.96"/>
<line x1="361.58" y1="766.7" x2="361.58" y2="676.7" stroke="rgb(170,170,170)" stroke-width="1.4" stroke-dasharray="1.5 4.96"/>
<line x1="439.4" y1="766.7" x2="439.4" y2="676.7" stroke="rgb(170,170,170)" stroke-width="1.4" stroke-dasharray="1.5 4.96"/>
<line x1="517.22" y1="766.7" x2="517.22" y2="676.7" stroke="rgb(170,170,170)" stroke-width="1.4" stroke-dasharray="1.5 4.96"/>
<line x1="46.3" y1="136.7" x2="50.3" y2="136.7" stroke="#000" stroke-width="1.3"/>
<text transform="translate(37.97,140.95) scale(0.901,1)" x="0" y="0" font-size="12.3" fill="#000" textLength="6.84" lengthAdjust="spacing" class="" stroke="#000" stroke-width="0.5">0</text>
<line x1="46.3" y1="114.2" x2="50.3" y2="114.2" stroke="#000" stroke-width="1.3"/>
<text transform="translate(37.46,118.45) scale(0.999,1)" x="0" y="0" font-size="12.3" fill="#000" textLength="6.84" lengthAdjust="spacing" class="" stroke="#000" stroke-width="0.5">1</text>
<line x1="46.3" y1="91.7" x2="50.3" y2="91.7" stroke="#000" stroke-width="1.3"/>
<text transform="translate(37.81,95.95) scale(0.946,1)" x="0" y="0" font-size="12.3" fill="#000" textLength="6.84" lengthAdjust="spacing" class="" stroke="#000" stroke-width="0.5">2</text>
<line x1="46.3" y1="69.2" x2="50.3" y2="69.2" stroke="#000" stroke-width="1.3"/>
<text transform="translate(37.97,73.45) scale(0.909,1)" x="0" y="0" font-size="12.3" fill="#000" textLength="6.84" lengthAdjust="spacing" class="" stroke="#000" stroke-width="0.5">3</text>
<line x1="46.3" y1="46.7" x2="50.3" y2="46.7" stroke="#000" stroke-width="1.3"/>
<text transform="translate(38.16,50.95) scale(0.855,1)" x="0" y="0" font-size="12.3" fill="#000" textLength="6.84" lengthAdjust="spacing" class="" stroke="#000" stroke-width="0.5">4</text>
<line x1="50.3" y1="136.7" x2="50.3" y2="140.3" stroke="#000" stroke-width="1.3"/>
<text transform="translate(38.2,150.6) scale(0.8,1)" x="0" y="0" font-size="12.3" fill="#000" textLength="30.2" lengthAdjust="spacing" class="" stroke="#000" stroke-width="0.5">7APR</text>
<line x1="128.12" y1="136.7" x2="128.12" y2="140.3" stroke="#000" stroke-width="1.3"/>
<text transform="translate(115.67,150.6) scale(0.8,1)" x="0" y="0" font-size="12.3" fill="#000" textLength="31.17" lengthAdjust="spacing" class="" stroke="#000" stroke-width="0.5">8APR</text>
<line x1="205.94" y1="136.7" x2="205.94" y2="140.3" stroke="#000" stroke-width="1.3"/>
<text transform="translate(193.45,150.6) scale(0.8,1)" x="0" y="0" font-size="12.3" fill="#000" textLength="31.21" lengthAdjust="spacing" class="" stroke="#000" stroke-width="0.5">9APR</text>
<line x1="283.76" y1="136.7" x2="283.76" y2="140.3" stroke="#000" stroke-width="1.3"/>
<text transform="translate(268.31,150.6) scale(0.8,1)" x="0" y="0" font-size="12.3" fill="#000" textLength="38.26" lengthAdjust="spacing" class="" stroke="#000" stroke-width="0.5">10APR</text>
<line x1="361.58" y1="136.7" x2="361.58" y2="140.3" stroke="#000" stroke-width="1.3"/>
<text transform="translate(346.13,150.6) scale(0.8,1)" x="0" y="0" font-size="12.3" fill="#000" textLength="38.26" lengthAdjust="spacing" class="" stroke="#000" stroke-width="0.5">11APR</text>
<line x1="439.4" y1="136.7" x2="439.4" y2="140.3" stroke="#000" stroke-width="1.3"/>
<text transform="translate(423.95,150.6) scale(0.8,1)" x="0" y="0" font-size="12.3" fill="#000" textLength="38.26" lengthAdjust="spacing" class="" stroke="#000" stroke-width="0.5">12APR</text>
<line x1="517.22" y1="136.7" x2="517.22" y2="140.3" stroke="#000" stroke-width="1.3"/>
<text transform="translate(501.77,150.6) scale(0.8,1)" x="0" y="0" font-size="12.3" fill="#000" textLength="38.26" lengthAdjust="spacing" class="" stroke="#000" stroke-width="0.5">13APR</text>
<text transform="translate(38.15,161.8) scale(0.885,1)" x="0" y="0" font-size="12.3" fill="#000" textLength="27.37" lengthAdjust="spacing" class="" stroke="#000" stroke-width="0.5">2026</text>
<line x1="46.3" y1="262.7" x2="50.3" y2="262.7" stroke="#000" stroke-width="1.3"/>
<text transform="translate(31.42,266.95) scale(0.94,1)" x="0" y="0" font-size="12.3" fill="#000" textLength="13.68" lengthAdjust="spacing" class="" stroke="#000" stroke-width="0.5">12</text>
<line x1="46.3" y1="246.34" x2="50.3" y2="246.34" stroke="#000" stroke-width="1.3"/>
<text transform="translate(31.42,250.59) scale(0.934,1)" x="0" y="0" font-size="12.3" fill="#000" textLength="13.68" lengthAdjust="spacing" class="" stroke="#000" stroke-width="0.5">16</text>
<line x1="46.3" y1="229.97" x2="50.3" y2="229.97" stroke="#000" stroke-width="1.3"/>
<text transform="translate(31.74,234.22) scale(0.906,1)" x="0" y="0" font-size="12.3" fill="#000" textLength="13.68" lengthAdjust="spacing" class="" stroke="#000" stroke-width="0.5">20</text>
<line x1="46.3" y1="213.61" x2="50.3" y2="213.61" stroke="#000" stroke-width="1.3"/>
<text transform="translate(31.75,217.86) scale(0.897,1)" x="0" y="0" font-size="12.3" fill="#000" textLength="13.69" lengthAdjust="spacing" class="" stroke="#000" stroke-width="0.5">24</text>
<line x1="46.3" y1="197.25" x2="50.3" y2="197.25" stroke="#000" stroke-width="1.3"/>
<text transform="translate(31.74,201.5) scale(0.91,1)" x="0" y="0" font-size="12.3" fill="#000" textLength="13.68" lengthAdjust="spacing" class="" stroke="#000" stroke-width="0.5">28</text>
<line x1="46.3" y1="180.88" x2="50.3" y2="180.88" stroke="#000" stroke-width="1.3"/>
<text transform="translate(31.88,185.13) scale(0.905,1)" x="0" y="0" font-size="12.3" fill="#000" textLength="13.68" lengthAdjust="spacing" class="" stroke="#000" stroke-width="0.5">32</text>
<line x1="50.3" y1="262.7" x2="50.3" y2="266.3" stroke="#000" stroke-width="1.3"/>
<text transform="translate(38.2,276.6) scale(0.8,1)" x="0" y="0" font-size="12.3" fill="#000" textLength="30.2" lengthAdjust="spacing" class="" stroke="#000" stroke-width="0.5">7APR</text>
<line x1="128.12" y1="262.7" x2="128.12" y2="266.3" stroke="#000" stroke-width="1.3"/>
<text transform="translate(115.67,276.6) scale(0.8,1)" x="0" y="0" font-size="12.3" fill="#000" textLength="31.17" lengthAdjust="spacing" class="" stroke="#000" stroke-width="0.5">8APR</text>
<line x1="205.94" y1="262.7" x2="205.94" y2="266.3" stroke="#000" stroke-width="1.3"/>
<text transform="translate(193.45,276.6) scale(0.8,1)" x="0" y="0" font-size="12.3" fill="#000" textLength="31.21" lengthAdjust="spacing" class="" stroke="#000" stroke-width="0.5">9APR</text>
<line x1="283.76" y1="262.7" x2="283.76" y2="266.3" stroke="#000" stroke-width="1.3"/>
<text transform="translate(268.31,276.6) scale(0.8,1)" x="0" y="0" font-size="12.3" fill="#000" textLength="38.26" lengthAdjust="spacing" class="" stroke="#000" stroke-width="0.5">10APR</text>
<line x1="361.58" y1="262.7" x2="361.58" y2="266.3" stroke="#000" stroke-width="1.3"/>
<text transform="translate(346.13,276.6) scale(0.8,1)" x="0" y="0" font-size="12.3" fill="#000" textLength="38.26" lengthAdjust="spacing" class="" stroke="#000" stroke-width="0.5">11APR</text>
<line x1="439.4" y1="262.7" x2="439.4" y2="266.3" stroke="#000" stroke-width="1.3"/>
<text transform="translate(423.95,276.6) scale(0.8,1)" x="0" y="0" font-size="12.3" fill="#000" textLength="38.26" lengthAdjust="spacing" class="" stroke="#000" stroke-width="0.5">12APR</text>
<line x1="517.22" y1="262.7" x2="517.22" y2="266.3" stroke="#000" stroke-width="1.3"/>
<text transform="translate(501.77,276.6) scale(0.8,1)" x="0" y="0" font-size="12.3" fill="#000" textLength="38.26" lengthAdjust="spacing" class="" stroke="#000" stroke-width="0.5">13APR</text>
<text transform="translate(38.15,287.8) scale(0.885,1)" x="0" y="0" font-size="12.3" fill="#000" textLength="27.37" lengthAdjust="spacing" class="" stroke="#000" stroke-width="0.5">2026</text>
<line x1="46.3" y1="388.7" x2="50.3" y2="388.7" stroke="#000" stroke-width="1.3"/>
<text transform="translate(37.97,392.95) scale(0.901,1)" x="0" y="0" font-size="12.3" fill="#000" textLength="6.84" lengthAdjust="spacing" class="" stroke="#000" stroke-width="0.5">0</text>
<line x1="46.3" y1="370.7" x2="50.3" y2="370.7" stroke="#000" stroke-width="1.3"/>
<text transform="translate(31.74,374.95) scale(0.906,1)" x="0" y="0" font-size="12.3" fill="#000" textLength="13.68" lengthAdjust="spacing" class="" stroke="#000" stroke-width="0.5">20</text>
<line x1="46.3" y1="352.7" x2="50.3" y2="352.7" stroke="#000" stroke-width="1.3"/>
<text transform="translate(32.05,356.95) scale(0.882,1)" x="0" y="0" font-size="12.3" fill="#000" textLength="13.69" lengthAdjust="spacing" class="" stroke="#000" stroke-width="0.5">40</text>
<line x1="46.3" y1="334.7" x2="50.3" y2="334.7" stroke="#000" stroke-width="1.3"/>
<text transform="translate(31.73,338.95) scale(0.906,1)" x="0" y="0" font-size="12.3" fill="#000" textLength="13.69" lengthAdjust="spacing" class="" stroke="#000" stroke-width="0.5">60</text>
<line x1="46.3" y1="316.7" x2="50.3" y2="316.7" stroke="#000" stroke-width="1.3"/>
<text transform="translate(31.82,320.95) scale(0.9,1)" x="0" y="0" font-size="12.3" fill="#000" textLength="13.68" lengthAdjust="spacing" class="" stroke="#000" stroke-width="0.5">80</text>
<line x1="46.3" y1="298.7" x2="50.3" y2="298.7" stroke="#000" stroke-width="1.3"/>
<text transform="translate(25.34,302.95) scale(0.916,1)" x="0" y="0" font-size="12.3" fill="#000" textLength="20.52" lengthAdjust="spacing" class="" stroke="#000" stroke-width="0.5">100</text>
<line x1="50.3" y1="388.7" x2="50.3" y2="392.3" stroke="#000" stroke-width="1.3"/>
<text transform="translate(38.2,402.6) scale(0.8,1)" x="0" y="0" font-size="12.3" fill="#000" textLength="30.2" lengthAdjust="spacing" class="" stroke="#000" stroke-width="0.5">7APR</text>
<line x1="128.12" y1="388.7" x2="128.12" y2="392.3" stroke="#000" stroke-width="1.3"/>
<text transform="translate(115.67,402.6) scale(0.8,1)" x="0" y="0" font-size="12.3" fill="#000" textLength="31.17" lengthAdjust="spacing" class="" stroke="#000" stroke-width="0.5">8APR</text>
<line x1="205.94" y1="388.7" x2="205.94" y2="392.3" stroke="#000" stroke-width="1.3"/>
<text transform="translate(193.45,402.6) scale(0.8,1)" x="0" y="0" font-size="12.3" fill="#000" textLength="31.21" lengthAdjust="spacing" class="" stroke="#000" stroke-width="0.5">9APR</text>
<line x1="283.76" y1="388.7" x2="283.76" y2="392.3" stroke="#000" stroke-width="1.3"/>
<text transform="translate(268.31,402.6) scale(0.8,1)" x="0" y="0" font-size="12.3" fill="#000" textLength="38.26" lengthAdjust="spacing" class="" stroke="#000" stroke-width="0.5">10APR</text>
<line x1="361.58" y1="388.7" x2="361.58" y2="392.3" stroke="#000" stroke-width="1.3"/>
<text transform="translate(346.13,402.6) scale(0.8,1)" x="0" y="0" font-size="12.3" fill="#000" textLength="38.26" lengthAdjust="spacing" class="" stroke="#000" stroke-width="0.5">11APR</text>
<line x1="439.4" y1="388.7" x2="439.4" y2="392.3" stroke="#000" stroke-width="1.3"/>
<text transform="translate(423.95,402.6) scale(0.8,1)" x="0" y="0" font-size="12.3" fill="#000" textLength="38.26" lengthAdjust="spacing" class="" stroke="#000" stroke-width="0.5">12APR</text>
<line x1="517.22" y1="388.7" x2="517.22" y2="392.3" stroke="#000" stroke-width="1.3"/>
<text transform="translate(501.77,402.6) scale(0.8,1)" x="0" y="0" font-size="12.3" fill="#000" textLength="38.26" lengthAdjust="spacing" class="" stroke="#000" stroke-width="0.5">13APR</text>
<text transform="translate(38.15,413.8) scale(0.885,1)" x="0" y="0" font-size="12.3" fill="#000" textLength="27.37" lengthAdjust="spacing" class="" stroke="#000" stroke-width="0.5">2026</text>
<line x1="46.3" y1="514.7" x2="50.3" y2="514.7" stroke="#000" stroke-width="1.3"/>
<text transform="translate(37.97,518.95) scale(0.901,1)" x="0" y="0" font-size="12.3" fill="#000" textLength="6.84" lengthAdjust="spacing" class="" stroke="#000" stroke-width="0.5">0</text>
<line x1="46.3" y1="494.7" x2="50.3" y2="494.7" stroke="#000" stroke-width="1.3"/>
<text transform="translate(37.81,498.95) scale(0.946,1)" x="0" y="0" font-size="12.3" fill="#000" textLength="6.84" lengthAdjust="spacing" class="" stroke="#000" stroke-width="0.5">2</text>
<line x1="46.3" y1="474.7" x2="50.3" y2="474.7" stroke="#000" stroke-width="1.3"/>
<text transform="translate(38.16,478.95) scale(0.855,1)" x="0" y="0" font-size="12.3" fill="#000" textLength="6.84" lengthAdjust="spacing" class="" stroke="#000" stroke-width="0.5">4</text>
<line x1="46.3" y1="454.7" x2="50.3" y2="454.7" stroke="#000" stroke-width="1.3"/>
<text transform="translate(37.82,458.95) scale(0.934,1)" x="0" y="0" font-size="12.3" fill="#000" textLength="6.84" lengthAdjust="spacing" class="" stroke="#000" stroke-width="0.5">6</text>
<line x1="46.3" y1="434.7" x2="50.3" y2="434.7" stroke="#000" stroke-width="1.3"/>
<text transform="translate(37.91,438.95) scale(0.918,1)" x="0" y="0" font-size="12.3" fill="#000" textLength="6.84" lengthAdjust="spacing" class="" stroke="#000" stroke-width="0.5">8</text>
<line x1="50.3" y1="514.7" x2="50.3" y2="518.3" stroke="#000" stroke-width="1.3"/>
<text transform="translate(38.2,528.6) scale(0.8,1)" x="0" y="0" font-size="12.3" fill="#000" textLength="30.2" lengthAdjust="spacing" class="" stroke="#000" stroke-width="0.5">7APR</text>
<line x1="128.12" y1="514.7" x2="128.12" y2="518.3" stroke="#000" stroke-width="1.3"/>
<text transform="translate(115.67,528.6) scale(0.8,1)" x="0" y="0" font-size="12.3" fill="#000" textLength="31.17" lengthAdjust="spacing" class="" stroke="#000" stroke-width="0.5">8APR</text>
<line x1="205.94" y1="514.7" x2="205.94" y2="518.3" stroke="#000" stroke-width="1.3"/>
<text transform="translate(193.45,528.6) scale(0.8,1)" x="0" y="0" font-size="12.3" fill="#000" textLength="31.21" lengthAdjust="spacing" class="" stroke="#000" stroke-width="0.5">9APR</text>
<line x1="283.76" y1="514.7" x2="283.76" y2="518.3" stroke="#000" stroke-width="1.3"/>
<text transform="translate(268.31,528.6) scale(0.8,1)" x="0" y="0" font-size="12.3" fill="#000" textLength="38.26" lengthAdjust="spacing" class="" stroke="#000" stroke-width="0.5">10APR</text>
<line x1="361.58" y1="514.7" x2="361.58" y2="518.3" stroke="#000" stroke-width="1.3"/>
<text transform="translate(346.13,528.6) scale(0.8,1)" x="0" y="0" font-size="12.3" fill="#000" textLength="38.26" lengthAdjust="spacing" class="" stroke="#000" stroke-width="0.5">11APR</text>
<line x1="439.4" y1="514.7" x2="439.4" y2="518.3" stroke="#000" stroke-width="1.3"/>
<text transform="translate(423.95,528.6) scale(0.8,1)" x="0" y="0" font-size="12.3" fill="#000" textLength="38.26" lengthAdjust="spacing" class="" stroke="#000" stroke-width="0.5">12APR</text>
<line x1="517.22" y1="514.7" x2="517.22" y2="518.3" stroke="#000" stroke-width="1.3"/>
<text transform="translate(501.77,528.6) scale(0.8,1)" x="0" y="0" font-size="12.3" fill="#000" textLength="38.26" lengthAdjust="spacing" class="" stroke="#000" stroke-width="0.5">13APR</text>
<text transform="translate(38.15,539.8) scale(0.885,1)" x="0" y="0" font-size="12.3" fill="#000" textLength="27.37" lengthAdjust="spacing" class="" stroke="#000" stroke-width="0.5">2026</text>
<line x1="46.3" y1="632.52" x2="50.3" y2="632.52" stroke="#000" stroke-width="1.3"/>
<text transform="translate(19.25,636.77) scale(0.91,1)" x="0" y="0" font-size="12.3" fill="#000" textLength="27.35" lengthAdjust="spacing" class="" stroke="#000" stroke-width="0.5">1010</text>
<line x1="46.3" y1="616.15" x2="50.3" y2="616.15" stroke="#000" stroke-width="1.3"/>
<text transform="translate(19.24,620.4) scale(0.914,1)" x="0" y="0" font-size="12.3" fill="#000" textLength="27.38" lengthAdjust="spacing" class="" stroke="#000" stroke-width="0.5">1012</text>
<line x1="46.3" y1="599.79" x2="50.3" y2="599.79" stroke="#000" stroke-width="1.3"/>
<text transform="translate(19.25,604.04) scale(0.905,1)" x="0" y="0" font-size="12.3" fill="#000" textLength="27.37" lengthAdjust="spacing" class="" stroke="#000" stroke-width="0.5">1014</text>
<line x1="46.3" y1="583.43" x2="50.3" y2="583.43" stroke="#000" stroke-width="1.3"/>
<text transform="translate(19.25,587.68) scale(0.912,1)" x="0" y="0" font-size="12.3" fill="#000" textLength="27.35" lengthAdjust="spacing" class="" stroke="#000" stroke-width="0.5">1016</text>
<line x1="46.3" y1="567.06" x2="50.3" y2="567.06" stroke="#000" stroke-width="1.3"/>
<text transform="translate(19.25,571.31) scale(0.912,1)" x="0" y="0" font-size="12.3" fill="#000" textLength="27.35" lengthAdjust="spacing" class="" stroke="#000" stroke-width="0.5">1018</text>
<line x1="46.3" y1="550.7" x2="50.3" y2="550.7" stroke="#000" stroke-width="1.3"/>
<text transform="translate(19.25,554.95) scale(0.91,1)" x="0" y="0" font-size="12.3" fill="#000" textLength="27.35" lengthAdjust="spacing" class="" stroke="#000" stroke-width="0.5">1020</text>
<line x1="50.3" y1="640.7" x2="50.3" y2="644.3" stroke="#000" stroke-width="1.3"/>
<text transform="translate(38.2,654.6) scale(0.8,1)" x="0" y="0" font-size="12.3" fill="#000" textLength="30.2" lengthAdjust="spacing" class="" stroke="#000" stroke-width="0.5">7APR</text>
<line x1="128.12" y1="640.7" x2="128.12" y2="644.3" stroke="#000" stroke-width="1.3"/>
<text transform="translate(115.67,654.6) scale(0.8,1)" x="0" y="0" font-size="12.3" fill="#000" textLength="31.17" lengthAdjust="spacing" class="" stroke="#000" stroke-width="0.5">8APR</text>
<line x1="205.94" y1="640.7" x2="205.94" y2="644.3" stroke="#000" stroke-width="1.3"/>
<text transform="translate(193.45,654.6) scale(0.8,1)" x="0" y="0" font-size="12.3" fill="#000" textLength="31.21" lengthAdjust="spacing" class="" stroke="#000" stroke-width="0.5">9APR</text>
<line x1="283.76" y1="640.7" x2="283.76" y2="644.3" stroke="#000" stroke-width="1.3"/>
<text transform="translate(268.31,654.6) scale(0.8,1)" x="0" y="0" font-size="12.3" fill="#000" textLength="38.26" lengthAdjust="spacing" class="" stroke="#000" stroke-width="0.5">10APR</text>
<line x1="361.58" y1="640.7" x2="361.58" y2="644.3" stroke="#000" stroke-width="1.3"/>
<text transform="translate(346.13,654.6) scale(0.8,1)" x="0" y="0" font-size="12.3" fill="#000" textLength="38.26" lengthAdjust="spacing" class="" stroke="#000" stroke-width="0.5">11APR</text>
<line x1="439.4" y1="640.7" x2="439.4" y2="644.3" stroke="#000" stroke-width="1.3"/>
<text transform="translate(423.95,654.6) scale(0.8,1)" x="0" y="0" font-size="12.3" fill="#000" textLength="38.26" lengthAdjust="spacing" class="" stroke="#000" stroke-width="0.5">12APR</text>
<line x1="517.22" y1="640.7" x2="517.22" y2="644.3" stroke="#000" stroke-width="1.3"/>
<text transform="translate(501.77,654.6) scale(0.8,1)" x="0" y="0" font-size="12.3" fill="#000" textLength="38.26" lengthAdjust="spacing" class="" stroke="#000" stroke-width="0.5">13APR</text>
<text transform="translate(38.15,665.8) scale(0.885,1)" x="0" y="0" font-size="12.3" fill="#000" textLength="27.37" lengthAdjust="spacing" class="" stroke="#000" stroke-width="0.5">2026</text>
<line x1="46.3" y1="766.7" x2="50.3" y2="766.7" stroke="#000" stroke-width="1.3"/>
<text transform="translate(37.97,770.95) scale(0.901,1)" x="0" y="0" font-size="12.3" fill="#000" textLength="6.84" lengthAdjust="spacing" class="" stroke="#000" stroke-width="0.5">0</text>
<line x1="46.3" y1="748.7" x2="50.3" y2="748.7" stroke="#000" stroke-width="1.3"/>
<text transform="translate(31.74,752.95) scale(0.906,1)" x="0" y="0" font-size="12.3" fill="#000" textLength="13.68" lengthAdjust="spacing" class="" stroke="#000" stroke-width="0.5">20</text>
<line x1="46.3" y1="730.7" x2="50.3" y2="730.7" stroke="#000" stroke-width="1.3"/>
<text transform="translate(32.05,734.95) scale(0.882,1)" x="0" y="0" font-size="12.3" fill="#000" textLength="13.69" lengthAdjust="spacing" class="" stroke="#000" stroke-width="0.5">40</text>
<line x1="46.3" y1="712.7" x2="50.3" y2="712.7" stroke="#000" stroke-width="1.3"/>
<text transform="translate(31.73,716.95) scale(0.906,1)" x="0" y="0" font-size="12.3" fill="#000" textLength="13.69" lengthAdjust="spacing" class="" stroke="#000" stroke-width="0.5">60</text>
<line x1="46.3" y1="694.7" x2="50.3" y2="694.7" stroke="#000" stroke-width="1.3"/>
<text transform="translate(31.82,698.95) scale(0.9,1)" x="0" y="0" font-size="12.3" fill="#000" textLength="13.68" lengthAdjust="spacing" class="" stroke="#000" stroke-width="0.5">80</text>
<line x1="46.3" y1="676.7" x2="50.3" y2="676.7" stroke="#000" stroke-width="1.3"/>
<text transform="translate(25.34,680.95) scale(0.916,1)" x="0" y="0" font-size="12.3" fill="#000" textLength="20.52" lengthAdjust="spacing" class="" stroke="#000" stroke-width="0.5">100</text>
<line x1="50.3" y1="766.7" x2="50.3" y2="770.3" stroke="#000" stroke-width="1.3"/>
<text transform="translate(38.2,780.6) scale(0.8,1)" x="0" y="0" font-size="12.3" fill="#000" textLength="30.2" lengthAdjust="spacing" class="" stroke="#000" stroke-width="0.5">7APR</text>
<line x1="128.12" y1="766.7" x2="128.12" y2="770.3" stroke="#000" stroke-width="1.3"/>
<text transform="translate(115.67,780.6) scale(0.8,1)" x="0" y="0" font-size="12.3" fill="#000" textLength="31.17" lengthAdjust="spacing" class="" stroke="#000" stroke-width="0.5">8APR</text>
<line x1="205.94" y1="766.7" x2="205.94" y2="770.3" stroke="#000" stroke-width="1.3"/>
<text transform="translate(193.45,780.6) scale(0.8,1)" x="0" y="0" font-size="12.3" fill="#000" textLength="31.21" lengthAdjust="spacing" class="" stroke="#000" stroke-width="0.5">9APR</text>
<line x1="283.76" y1="766.7" x2="283.76" y2="770.3" stroke="#000" stroke-width="1.3"/>
<text transform="translate(268.31,780.6) scale(0.8,1)" x="0" y="0" font-size="12.3" fill="#000" textLength="38.26" lengthAdjust="spacing" class="" stroke="#000" stroke-width="0.5">10APR</text>
<line x1="361.58" y1="766.7" x2="361.58" y2="770.3" stroke="#000" stroke-width="1.3"/>
<text transform="translate(346.13,780.6) scale(0.8,1)" x="0" y="0" font-size="12.3" fill="#000" textLength="38.26" lengthAdjust="spacing" class="" stroke="#000" stroke-width="0.5">11APR</text>
<line x1="439.4" y1="766.7" x2="439.4" y2="770.3" stroke="#000" stroke-width="1.3"/>
<text transform="translate(423.95,780.6) scale(0.8,1)" x="0" y="0" font-size="12.3" fill="#000" textLength="38.26" lengthAdjust="spacing" class="" stroke="#000" stroke-width="0.5">12APR</text>
<line x1="517.22" y1="766.7" x2="517.22" y2="770.3" stroke="#000" stroke-width="1.3"/>
<text transform="translate(501.77,780.6) scale(0.8,1)" x="0" y="0" font-size="12.3" fill="#000" textLength="38.26" lengthAdjust="spacing" class="" stroke="#000" stroke-width="0.5">13APR</text>
<text transform="translate(38.15,791.8) scale(0.885,1)" x="0" y="0" font-size="12.3" fill="#000" textLength="27.37" lengthAdjust="spacing" class="" stroke="#000" stroke-width="0.5">2026</text>
<text transform="translate(359.36,170.4) scale(1.011,1)" x="0" y="0" font-size="14.8" fill="rgb(0,200,200)" textLength="84.7" lengthAdjust="spacing" class="" stroke="rgb(0,200,200)" stroke-width="0.4">Temperatura</text>
<text transform="translate(452.77,170.4) scale(0.968,1)" x="0" y="0" font-size="14.8" fill="rgb(0,200,200)" textLength="60.09" lengthAdjust="spacing" class="" stroke="rgb(0,200,200)" stroke-width="0.4">Aparente</text>
<text transform="translate(517.03,170.4) scale(1.06,1)" x="0" y="0" font-size="14.8" fill="rgb(0,200,200)" textLength="22.12" lengthAdjust="spacing" class="" stroke="rgb(0,200,200)" stroke-width="0.4">(C)</text>
<rect x="252.3" y="662.6" width="6.3" height="10.6" fill="none" stroke="rgb(30,60,255)" stroke-width="0.9"/>
<text transform="translate(263.33,674.5) scale(1.017,1)" x="0" y="0" font-size="14.3" fill="rgb(30,60,255)" textLength="46.11" lengthAdjust="spacing" class="" stroke="rgb(30,60,255)" stroke-width="0.45">nuvens</text>
<text transform="translate(313.52,674.5) scale(1.06,1)" x="0" y="0" font-size="14.3" fill="rgb(30,60,255)" textLength="44.17" lengthAdjust="spacing" class="" stroke="rgb(30,60,255)" stroke-width="0.45">baixas</text>
<rect x="372.5" y="662.4" width="5.6" height="10.6" fill="none" stroke="rgb(0,220,0)" stroke-width="0.9"/>
<text transform="translate(382.23,674.5) scale(1.017,1)" x="0" y="0" font-size="14.3" fill="rgb(0,220,0)" textLength="46.11" lengthAdjust="spacing" class="" stroke="rgb(0,220,0)" stroke-width="0.45">nuvens</text>
<text transform="translate(436.2,674.5) scale(1.055,1)" x="0" y="0" font-size="14.3" fill="rgb(0,220,0)" textLength="46.11" lengthAdjust="spacing" class="" stroke="rgb(0,220,0)" stroke-width="0.45">medias</text>
<rect x="492.6" y="662.4" width="5.8" height="10.8" fill="none" stroke="rgb(240,130,40)" stroke-width="0.9"/>
<text transform="translate(500.83,674.5) scale(1.017,1)" x="0" y="0" font-size="14.3" fill="rgb(240,130,40)" textLength="46.11" lengthAdjust="spacing" class="" stroke="rgb(240,130,40)" stroke-width="0.45">nuvens</text>
<text transform="translate(555.76,674.5) scale(1.06,1)" x="0" y="0" font-size="14.3" fill="rgb(240,130,40)" textLength="30.84" lengthAdjust="spacing" class="" stroke="rgb(240,130,40)" stroke-width="0.45">altas</text>
</svg></body></html>
